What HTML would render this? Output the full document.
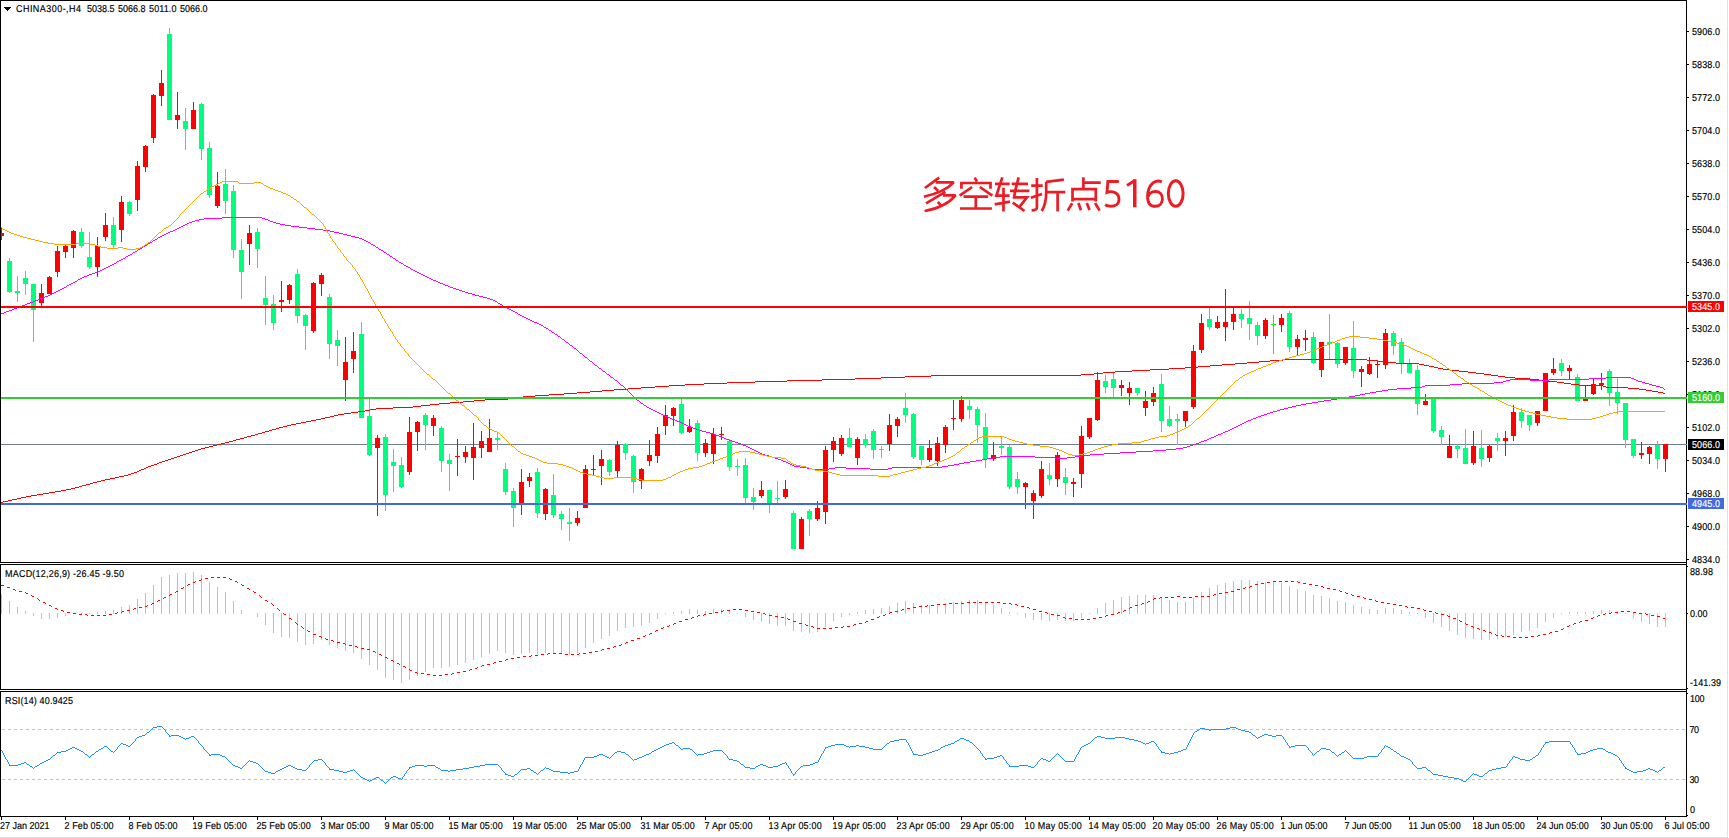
<!DOCTYPE html><html><head><meta charset="utf-8"><title>CHINA300-,H4</title><style>html,body{margin:0;padding:0;background:#fff;overflow:hidden}svg text{font-family:"Liberation Sans",sans-serif}</style></head><body><svg width="1729" height="838" viewBox="0 0 1729 838" font-family="'Liberation Sans', sans-serif" text-rendering="geometricPrecision" style="display:block">
<rect x="0" y="0" width="1729" height="838" fill="#fff"/>
<rect x="1727" y="0" width="1" height="838" fill="#e2e2e2"/>
<rect x="0" y="837" width="1728" height="1" fill="#e0e0e0"/>
<defs><clipPath id="cm"><rect x="1" y="1" width="1685" height="561"/></clipPath><clipPath id="cd"><rect x="1" y="565" width="1685" height="124"/></clipPath><clipPath id="cr"><rect x="1" y="692" width="1685" height="124"/></clipPath></defs>
<rect x="1" y="444" width="1686" height="1" fill="#708090" shape-rendering="crispEdges"/>
<g clip-path="url(#cm)" shape-rendering="crispEdges">
<rect x="1" y="228" width="1" height="12" fill="#ff0000"/>
<rect x="-1" y="233" width="5" height="3" fill="#ff0000"/>
<rect x="9" y="258" width="1" height="35" fill="#00ff7f"/>
<rect x="7" y="261" width="5" height="31" fill="#00ff7f"/>
<rect x="17" y="276" width="1" height="26" fill="#00ff7f"/>
<rect x="15" y="291" width="5" height="2" fill="#00ff7f"/>
<rect x="25" y="271" width="1" height="24" fill="#00ff7f"/>
<rect x="23" y="278" width="5" height="6" fill="#00ff7f"/>
<rect x="33" y="284" width="1" height="58" fill="#00ff7f"/>
<rect x="31" y="284" width="5" height="26" fill="#00ff7f"/>
<rect x="41" y="284" width="1" height="22" fill="#ff0000"/>
<rect x="39" y="293" width="5" height="10" fill="#ff0000"/>
<rect x="49" y="276" width="1" height="18" fill="#ff0000"/>
<rect x="47" y="277" width="5" height="17" fill="#ff0000"/>
<rect x="57" y="246" width="1" height="31" fill="#ff0000"/>
<rect x="55" y="251" width="5" height="21" fill="#ff0000"/>
<rect x="65" y="244" width="1" height="14" fill="#ff0000"/>
<rect x="63" y="246" width="5" height="6" fill="#ff0000"/>
<rect x="73" y="230" width="1" height="28" fill="#ff0000"/>
<rect x="71" y="231" width="5" height="17" fill="#ff0000"/>
<rect x="81" y="228" width="1" height="20" fill="#00ff7f"/>
<rect x="79" y="232" width="5" height="14" fill="#00ff7f"/>
<rect x="89" y="232" width="1" height="37" fill="#00ff7f"/>
<rect x="87" y="257" width="5" height="10" fill="#00ff7f"/>
<rect x="97" y="237" width="1" height="40" fill="#ff0000"/>
<rect x="95" y="246" width="5" height="21" fill="#ff0000"/>
<rect x="105" y="213" width="1" height="28" fill="#ff0000"/>
<rect x="103" y="225" width="5" height="12" fill="#ff0000"/>
<rect x="113" y="217" width="1" height="31" fill="#00ff7f"/>
<rect x="111" y="225" width="5" height="20" fill="#00ff7f"/>
<rect x="121" y="196" width="1" height="46" fill="#ff0000"/>
<rect x="119" y="202" width="5" height="28" fill="#ff0000"/>
<rect x="129" y="201" width="1" height="15" fill="#00ff7f"/>
<rect x="127" y="202" width="5" height="12" fill="#00ff7f"/>
<rect x="137" y="161" width="1" height="50" fill="#ff0000"/>
<rect x="135" y="166" width="5" height="34" fill="#ff0000"/>
<rect x="145" y="145" width="1" height="27" fill="#ff0000"/>
<rect x="143" y="146" width="5" height="21" fill="#ff0000"/>
<rect x="153" y="94" width="1" height="49" fill="#ff0000"/>
<rect x="151" y="95" width="5" height="43" fill="#ff0000"/>
<rect x="161" y="70" width="1" height="36" fill="#ff0000"/>
<rect x="159" y="83" width="5" height="13" fill="#ff0000"/>
<rect x="169" y="28" width="1" height="92" fill="#00ff7f"/>
<rect x="167" y="34" width="5" height="86" fill="#00ff7f"/>
<rect x="177" y="92" width="1" height="37" fill="#ff0000"/>
<rect x="175" y="115" width="5" height="5" fill="#ff0000"/>
<rect x="185" y="108" width="1" height="42" fill="#00ff7f"/>
<rect x="183" y="121" width="5" height="8" fill="#00ff7f"/>
<rect x="193" y="102" width="1" height="27" fill="#ff0000"/>
<rect x="191" y="110" width="5" height="19" fill="#ff0000"/>
<rect x="201" y="103" width="1" height="57" fill="#00ff7f"/>
<rect x="199" y="104" width="5" height="45" fill="#00ff7f"/>
<rect x="209" y="142" width="1" height="56" fill="#00ff7f"/>
<rect x="207" y="148" width="5" height="47" fill="#00ff7f"/>
<rect x="217" y="172" width="1" height="36" fill="#ff0000"/>
<rect x="215" y="186" width="5" height="20" fill="#ff0000"/>
<rect x="225" y="169" width="1" height="45" fill="#00ff7f"/>
<rect x="223" y="184" width="5" height="17" fill="#00ff7f"/>
<rect x="233" y="185" width="1" height="73" fill="#00ff7f"/>
<rect x="231" y="191" width="5" height="59" fill="#00ff7f"/>
<rect x="241" y="239" width="1" height="60" fill="#00ff7f"/>
<rect x="239" y="250" width="5" height="22" fill="#00ff7f"/>
<rect x="249" y="225" width="1" height="40" fill="#ff0000"/>
<rect x="247" y="233" width="5" height="11" fill="#ff0000"/>
<rect x="257" y="228" width="1" height="40" fill="#00ff7f"/>
<rect x="255" y="232" width="5" height="17" fill="#00ff7f"/>
<rect x="265" y="276" width="1" height="49" fill="#00ff7f"/>
<rect x="263" y="298" width="5" height="7" fill="#00ff7f"/>
<rect x="273" y="295" width="1" height="35" fill="#00ff7f"/>
<rect x="271" y="304" width="5" height="19" fill="#00ff7f"/>
<rect x="281" y="281" width="1" height="31" fill="#ff0000"/>
<rect x="279" y="300" width="5" height="2" fill="#ff0000"/>
<rect x="289" y="284" width="1" height="20" fill="#ff0000"/>
<rect x="287" y="285" width="5" height="15" fill="#ff0000"/>
<rect x="297" y="269" width="1" height="54" fill="#00ff7f"/>
<rect x="295" y="274" width="5" height="42" fill="#00ff7f"/>
<rect x="305" y="314" width="1" height="36" fill="#00ff7f"/>
<rect x="303" y="315" width="5" height="11" fill="#00ff7f"/>
<rect x="313" y="282" width="1" height="51" fill="#ff0000"/>
<rect x="311" y="283" width="5" height="48" fill="#ff0000"/>
<rect x="321" y="273" width="1" height="23" fill="#ff0000"/>
<rect x="319" y="275" width="5" height="9" fill="#ff0000"/>
<rect x="329" y="294" width="1" height="65" fill="#00ff7f"/>
<rect x="327" y="297" width="5" height="47" fill="#00ff7f"/>
<rect x="337" y="330" width="1" height="36" fill="#00ff7f"/>
<rect x="335" y="340" width="5" height="6" fill="#00ff7f"/>
<rect x="345" y="337" width="1" height="64" fill="#ff0000"/>
<rect x="343" y="362" width="5" height="18" fill="#ff0000"/>
<rect x="353" y="332" width="1" height="41" fill="#ff0000"/>
<rect x="351" y="351" width="5" height="8" fill="#ff0000"/>
<rect x="361" y="322" width="1" height="96" fill="#00ff7f"/>
<rect x="359" y="334" width="5" height="84" fill="#00ff7f"/>
<rect x="369" y="399" width="1" height="57" fill="#00ff7f"/>
<rect x="367" y="416" width="5" height="39" fill="#00ff7f"/>
<rect x="377" y="435" width="1" height="81" fill="#ff0000"/>
<rect x="375" y="438" width="5" height="10" fill="#ff0000"/>
<rect x="385" y="434" width="1" height="77" fill="#00ff7f"/>
<rect x="383" y="437" width="5" height="58" fill="#00ff7f"/>
<rect x="393" y="449" width="1" height="43" fill="#00ff7f"/>
<rect x="391" y="462" width="5" height="4" fill="#00ff7f"/>
<rect x="401" y="457" width="1" height="31" fill="#00ff7f"/>
<rect x="399" y="465" width="5" height="22" fill="#00ff7f"/>
<rect x="409" y="417" width="1" height="58" fill="#ff0000"/>
<rect x="407" y="432" width="5" height="40" fill="#ff0000"/>
<rect x="417" y="421" width="1" height="30" fill="#ff0000"/>
<rect x="415" y="422" width="5" height="10" fill="#ff0000"/>
<rect x="425" y="413" width="1" height="37" fill="#00ff7f"/>
<rect x="423" y="415" width="5" height="10" fill="#00ff7f"/>
<rect x="433" y="415" width="1" height="21" fill="#ff0000"/>
<rect x="431" y="418" width="5" height="8" fill="#ff0000"/>
<rect x="441" y="426" width="1" height="46" fill="#00ff7f"/>
<rect x="439" y="428" width="5" height="33" fill="#00ff7f"/>
<rect x="449" y="454" width="1" height="37" fill="#00ff7f"/>
<rect x="447" y="460" width="5" height="4" fill="#00ff7f"/>
<rect x="457" y="439" width="1" height="37" fill="#ff0000"/>
<rect x="455" y="456" width="5" height="1" fill="#ff0000"/>
<rect x="465" y="446" width="1" height="17" fill="#ff0000"/>
<rect x="463" y="452" width="5" height="5" fill="#ff0000"/>
<rect x="473" y="423" width="1" height="57" fill="#ff0000"/>
<rect x="471" y="447" width="5" height="11" fill="#ff0000"/>
<rect x="481" y="431" width="1" height="27" fill="#ff0000"/>
<rect x="479" y="441" width="5" height="7" fill="#ff0000"/>
<rect x="489" y="419" width="1" height="33" fill="#ff0000"/>
<rect x="487" y="438" width="5" height="14" fill="#ff0000"/>
<rect x="497" y="432" width="1" height="18" fill="#00ff7f"/>
<rect x="495" y="438" width="5" height="2" fill="#00ff7f"/>
<rect x="505" y="463" width="1" height="32" fill="#00ff7f"/>
<rect x="503" y="469" width="5" height="23" fill="#00ff7f"/>
<rect x="513" y="488" width="1" height="39" fill="#00ff7f"/>
<rect x="511" y="491" width="5" height="17" fill="#00ff7f"/>
<rect x="521" y="469" width="1" height="46" fill="#ff0000"/>
<rect x="519" y="482" width="5" height="21" fill="#ff0000"/>
<rect x="529" y="473" width="1" height="14" fill="#ff0000"/>
<rect x="527" y="477" width="5" height="4" fill="#ff0000"/>
<rect x="537" y="468" width="1" height="50" fill="#00ff7f"/>
<rect x="535" y="472" width="5" height="41" fill="#00ff7f"/>
<rect x="545" y="488" width="1" height="32" fill="#ff0000"/>
<rect x="543" y="489" width="5" height="25" fill="#ff0000"/>
<rect x="553" y="474" width="1" height="44" fill="#00ff7f"/>
<rect x="551" y="495" width="5" height="20" fill="#00ff7f"/>
<rect x="561" y="511" width="1" height="19" fill="#00ff7f"/>
<rect x="559" y="514" width="5" height="5" fill="#00ff7f"/>
<rect x="569" y="508" width="1" height="33" fill="#00ff7f"/>
<rect x="567" y="522" width="5" height="2" fill="#00ff7f"/>
<rect x="577" y="511" width="1" height="15" fill="#ff0000"/>
<rect x="575" y="518" width="5" height="5" fill="#ff0000"/>
<rect x="585" y="465" width="1" height="43" fill="#ff0000"/>
<rect x="583" y="469" width="5" height="39" fill="#ff0000"/>
<rect x="593" y="455" width="1" height="20" fill="#ff0000"/>
<rect x="591" y="469" width="5" height="1" fill="#ff0000"/>
<rect x="601" y="450" width="1" height="35" fill="#ff0000"/>
<rect x="599" y="459" width="5" height="7" fill="#ff0000"/>
<rect x="609" y="459" width="1" height="17" fill="#00ff7f"/>
<rect x="607" y="460" width="5" height="12" fill="#00ff7f"/>
<rect x="617" y="441" width="1" height="36" fill="#ff0000"/>
<rect x="615" y="445" width="5" height="26" fill="#ff0000"/>
<rect x="625" y="443" width="1" height="17" fill="#00ff7f"/>
<rect x="623" y="444" width="5" height="9" fill="#00ff7f"/>
<rect x="633" y="455" width="1" height="38" fill="#00ff7f"/>
<rect x="631" y="456" width="5" height="26" fill="#00ff7f"/>
<rect x="641" y="468" width="1" height="21" fill="#ff0000"/>
<rect x="639" y="469" width="5" height="12" fill="#ff0000"/>
<rect x="649" y="440" width="1" height="26" fill="#ff0000"/>
<rect x="647" y="455" width="5" height="6" fill="#ff0000"/>
<rect x="657" y="427" width="1" height="36" fill="#ff0000"/>
<rect x="655" y="434" width="5" height="22" fill="#ff0000"/>
<rect x="665" y="405" width="1" height="30" fill="#ff0000"/>
<rect x="663" y="415" width="5" height="11" fill="#ff0000"/>
<rect x="673" y="407" width="1" height="19" fill="#ff0000"/>
<rect x="671" y="408" width="5" height="8" fill="#ff0000"/>
<rect x="681" y="399" width="1" height="35" fill="#00ff7f"/>
<rect x="679" y="404" width="5" height="29" fill="#00ff7f"/>
<rect x="689" y="419" width="1" height="14" fill="#ff0000"/>
<rect x="687" y="427" width="5" height="5" fill="#ff0000"/>
<rect x="697" y="420" width="1" height="41" fill="#00ff7f"/>
<rect x="695" y="423" width="5" height="30" fill="#00ff7f"/>
<rect x="705" y="439" width="1" height="18" fill="#ff0000"/>
<rect x="703" y="443" width="5" height="10" fill="#ff0000"/>
<rect x="713" y="428" width="1" height="36" fill="#ff0000"/>
<rect x="711" y="434" width="5" height="20" fill="#ff0000"/>
<rect x="721" y="427" width="1" height="13" fill="#ff0000"/>
<rect x="719" y="434" width="5" height="1" fill="#ff0000"/>
<rect x="729" y="439" width="1" height="32" fill="#00ff7f"/>
<rect x="727" y="441" width="5" height="26" fill="#00ff7f"/>
<rect x="737" y="459" width="1" height="17" fill="#00ff7f"/>
<rect x="735" y="466" width="5" height="1" fill="#00ff7f"/>
<rect x="745" y="458" width="1" height="46" fill="#00ff7f"/>
<rect x="743" y="465" width="5" height="33" fill="#00ff7f"/>
<rect x="753" y="488" width="1" height="22" fill="#00ff7f"/>
<rect x="751" y="497" width="5" height="5" fill="#00ff7f"/>
<rect x="761" y="481" width="1" height="17" fill="#ff0000"/>
<rect x="759" y="490" width="5" height="6" fill="#ff0000"/>
<rect x="769" y="490" width="1" height="23" fill="#00ff7f"/>
<rect x="767" y="490" width="5" height="13" fill="#00ff7f"/>
<rect x="777" y="481" width="1" height="22" fill="#00ff7f"/>
<rect x="775" y="498" width="5" height="1" fill="#00ff7f"/>
<rect x="785" y="480" width="1" height="19" fill="#ff0000"/>
<rect x="783" y="489" width="5" height="8" fill="#ff0000"/>
<rect x="793" y="511" width="1" height="38" fill="#00ff7f"/>
<rect x="791" y="513" width="5" height="36" fill="#00ff7f"/>
<rect x="801" y="517" width="1" height="32" fill="#ff0000"/>
<rect x="799" y="519" width="5" height="30" fill="#ff0000"/>
<rect x="809" y="509" width="1" height="27" fill="#00ff7f"/>
<rect x="807" y="511" width="5" height="8" fill="#00ff7f"/>
<rect x="817" y="501" width="1" height="20" fill="#ff0000"/>
<rect x="815" y="508" width="5" height="11" fill="#ff0000"/>
<rect x="825" y="446" width="1" height="78" fill="#ff0000"/>
<rect x="823" y="450" width="5" height="62" fill="#ff0000"/>
<rect x="833" y="437" width="1" height="25" fill="#ff0000"/>
<rect x="831" y="441" width="5" height="9" fill="#ff0000"/>
<rect x="841" y="435" width="1" height="21" fill="#ff0000"/>
<rect x="839" y="438" width="5" height="16" fill="#ff0000"/>
<rect x="849" y="428" width="1" height="19" fill="#00ff7f"/>
<rect x="847" y="438" width="5" height="9" fill="#00ff7f"/>
<rect x="857" y="437" width="1" height="28" fill="#ff0000"/>
<rect x="855" y="439" width="5" height="19" fill="#ff0000"/>
<rect x="865" y="434" width="1" height="14" fill="#00ff7f"/>
<rect x="863" y="439" width="5" height="6" fill="#00ff7f"/>
<rect x="873" y="429" width="1" height="30" fill="#00ff7f"/>
<rect x="871" y="431" width="5" height="19" fill="#00ff7f"/>
<rect x="881" y="446" width="1" height="12" fill="#00ff7f"/>
<rect x="879" y="449" width="5" height="1" fill="#00ff7f"/>
<rect x="889" y="414" width="1" height="37" fill="#ff0000"/>
<rect x="887" y="425" width="5" height="19" fill="#ff0000"/>
<rect x="897" y="417" width="1" height="20" fill="#ff0000"/>
<rect x="895" y="419" width="5" height="7" fill="#ff0000"/>
<rect x="905" y="393" width="1" height="30" fill="#00ff7f"/>
<rect x="903" y="408" width="5" height="7" fill="#00ff7f"/>
<rect x="913" y="413" width="1" height="46" fill="#00ff7f"/>
<rect x="911" y="414" width="5" height="43" fill="#00ff7f"/>
<rect x="921" y="446" width="1" height="19" fill="#00ff7f"/>
<rect x="919" y="446" width="5" height="14" fill="#00ff7f"/>
<rect x="929" y="440" width="1" height="22" fill="#ff0000"/>
<rect x="927" y="448" width="5" height="12" fill="#ff0000"/>
<rect x="937" y="437" width="1" height="29" fill="#ff0000"/>
<rect x="935" y="443" width="5" height="18" fill="#ff0000"/>
<rect x="945" y="425" width="1" height="28" fill="#ff0000"/>
<rect x="943" y="427" width="5" height="18" fill="#ff0000"/>
<rect x="953" y="400" width="1" height="30" fill="#ff0000"/>
<rect x="951" y="418" width="5" height="1" fill="#ff0000"/>
<rect x="961" y="396" width="1" height="26" fill="#ff0000"/>
<rect x="959" y="400" width="5" height="19" fill="#ff0000"/>
<rect x="969" y="400" width="1" height="19" fill="#00ff7f"/>
<rect x="967" y="406" width="5" height="4" fill="#00ff7f"/>
<rect x="977" y="407" width="1" height="36" fill="#00ff7f"/>
<rect x="975" y="409" width="5" height="16" fill="#00ff7f"/>
<rect x="985" y="413" width="1" height="55" fill="#00ff7f"/>
<rect x="983" y="427" width="5" height="32" fill="#00ff7f"/>
<rect x="993" y="442" width="1" height="19" fill="#ff0000"/>
<rect x="991" y="455" width="5" height="4" fill="#ff0000"/>
<rect x="1001" y="437" width="1" height="18" fill="#00ff7f"/>
<rect x="999" y="446" width="5" height="2" fill="#00ff7f"/>
<rect x="1009" y="445" width="1" height="44" fill="#00ff7f"/>
<rect x="1007" y="447" width="5" height="40" fill="#00ff7f"/>
<rect x="1017" y="472" width="1" height="22" fill="#00ff7f"/>
<rect x="1015" y="479" width="5" height="8" fill="#00ff7f"/>
<rect x="1025" y="482" width="1" height="27" fill="#ff0000"/>
<rect x="1023" y="483" width="5" height="4" fill="#ff0000"/>
<rect x="1033" y="490" width="1" height="29" fill="#ff0000"/>
<rect x="1031" y="493" width="5" height="8" fill="#ff0000"/>
<rect x="1041" y="461" width="1" height="37" fill="#ff0000"/>
<rect x="1039" y="469" width="5" height="27" fill="#ff0000"/>
<rect x="1049" y="463" width="1" height="22" fill="#00ff7f"/>
<rect x="1047" y="475" width="5" height="4" fill="#00ff7f"/>
<rect x="1057" y="452" width="1" height="35" fill="#ff0000"/>
<rect x="1055" y="455" width="5" height="24" fill="#ff0000"/>
<rect x="1065" y="468" width="1" height="27" fill="#00ff7f"/>
<rect x="1063" y="477" width="5" height="6" fill="#00ff7f"/>
<rect x="1073" y="478" width="1" height="19" fill="#ff0000"/>
<rect x="1071" y="482" width="5" height="2" fill="#ff0000"/>
<rect x="1081" y="426" width="1" height="62" fill="#ff0000"/>
<rect x="1079" y="436" width="5" height="38" fill="#ff0000"/>
<rect x="1089" y="418" width="1" height="21" fill="#ff0000"/>
<rect x="1087" y="418" width="5" height="19" fill="#ff0000"/>
<rect x="1097" y="372" width="1" height="49" fill="#ff0000"/>
<rect x="1095" y="380" width="5" height="40" fill="#ff0000"/>
<rect x="1105" y="375" width="1" height="18" fill="#00ff7f"/>
<rect x="1103" y="381" width="5" height="6" fill="#00ff7f"/>
<rect x="1113" y="373" width="1" height="24" fill="#00ff7f"/>
<rect x="1111" y="379" width="5" height="9" fill="#00ff7f"/>
<rect x="1121" y="380" width="1" height="16" fill="#ff0000"/>
<rect x="1119" y="385" width="5" height="3" fill="#ff0000"/>
<rect x="1129" y="382" width="1" height="23" fill="#ff0000"/>
<rect x="1127" y="388" width="5" height="5" fill="#ff0000"/>
<rect x="1137" y="388" width="1" height="8" fill="#00ff7f"/>
<rect x="1135" y="388" width="5" height="5" fill="#00ff7f"/>
<rect x="1145" y="391" width="1" height="25" fill="#ff0000"/>
<rect x="1143" y="401" width="5" height="7" fill="#ff0000"/>
<rect x="1153" y="387" width="1" height="19" fill="#ff0000"/>
<rect x="1151" y="393" width="5" height="9" fill="#ff0000"/>
<rect x="1161" y="374" width="1" height="58" fill="#00ff7f"/>
<rect x="1159" y="384" width="5" height="37" fill="#00ff7f"/>
<rect x="1169" y="406" width="1" height="21" fill="#00ff7f"/>
<rect x="1167" y="419" width="5" height="7" fill="#00ff7f"/>
<rect x="1177" y="414" width="1" height="31" fill="#00ff7f"/>
<rect x="1175" y="419" width="5" height="2" fill="#00ff7f"/>
<rect x="1185" y="411" width="1" height="16" fill="#ff0000"/>
<rect x="1183" y="411" width="5" height="10" fill="#ff0000"/>
<rect x="1193" y="345" width="1" height="64" fill="#ff0000"/>
<rect x="1191" y="351" width="5" height="56" fill="#ff0000"/>
<rect x="1201" y="314" width="1" height="39" fill="#ff0000"/>
<rect x="1199" y="323" width="5" height="27" fill="#ff0000"/>
<rect x="1209" y="308" width="1" height="22" fill="#00ff7f"/>
<rect x="1207" y="319" width="5" height="8" fill="#00ff7f"/>
<rect x="1217" y="316" width="1" height="13" fill="#ff0000"/>
<rect x="1215" y="322" width="5" height="6" fill="#ff0000"/>
<rect x="1225" y="289" width="1" height="52" fill="#ff0000"/>
<rect x="1223" y="322" width="5" height="5" fill="#ff0000"/>
<rect x="1233" y="308" width="1" height="22" fill="#ff0000"/>
<rect x="1231" y="314" width="5" height="8" fill="#ff0000"/>
<rect x="1241" y="309" width="1" height="19" fill="#00ff7f"/>
<rect x="1239" y="314" width="5" height="5" fill="#00ff7f"/>
<rect x="1249" y="301" width="1" height="39" fill="#00ff7f"/>
<rect x="1247" y="318" width="5" height="6" fill="#00ff7f"/>
<rect x="1257" y="322" width="1" height="23" fill="#00ff7f"/>
<rect x="1255" y="325" width="5" height="11" fill="#00ff7f"/>
<rect x="1265" y="318" width="1" height="21" fill="#ff0000"/>
<rect x="1263" y="320" width="5" height="16" fill="#ff0000"/>
<rect x="1273" y="315" width="1" height="39" fill="#00ff00"/>
<rect x="1271" y="324" width="5" height="1" fill="#00ff00"/>
<rect x="1281" y="314" width="1" height="18" fill="#ff0000"/>
<rect x="1279" y="318" width="5" height="7" fill="#ff0000"/>
<rect x="1289" y="311" width="1" height="41" fill="#00ff7f"/>
<rect x="1287" y="313" width="5" height="34" fill="#00ff7f"/>
<rect x="1297" y="335" width="1" height="20" fill="#ff0000"/>
<rect x="1295" y="339" width="5" height="8" fill="#ff0000"/>
<rect x="1305" y="330" width="1" height="21" fill="#ff0000"/>
<rect x="1303" y="338" width="5" height="2" fill="#ff0000"/>
<rect x="1313" y="332" width="1" height="32" fill="#00ff7f"/>
<rect x="1311" y="337" width="5" height="26" fill="#00ff7f"/>
<rect x="1321" y="342" width="1" height="35" fill="#ff0000"/>
<rect x="1319" y="342" width="5" height="28" fill="#ff0000"/>
<rect x="1329" y="314" width="1" height="45" fill="#00ff7f"/>
<rect x="1327" y="342" width="5" height="2" fill="#00ff7f"/>
<rect x="1337" y="342" width="1" height="26" fill="#00ff7f"/>
<rect x="1335" y="343" width="5" height="21" fill="#00ff7f"/>
<rect x="1345" y="347" width="1" height="18" fill="#ff0000"/>
<rect x="1343" y="347" width="5" height="16" fill="#ff0000"/>
<rect x="1353" y="321" width="1" height="57" fill="#00ff7f"/>
<rect x="1351" y="348" width="5" height="23" fill="#00ff7f"/>
<rect x="1361" y="366" width="1" height="21" fill="#ff0000"/>
<rect x="1359" y="369" width="5" height="3" fill="#ff0000"/>
<rect x="1369" y="357" width="1" height="18" fill="#ff0000"/>
<rect x="1367" y="364" width="5" height="10" fill="#ff0000"/>
<rect x="1377" y="360" width="1" height="18" fill="#ff0000"/>
<rect x="1375" y="364" width="5" height="1" fill="#ff0000"/>
<rect x="1385" y="329" width="1" height="40" fill="#ff0000"/>
<rect x="1383" y="333" width="5" height="32" fill="#ff0000"/>
<rect x="1393" y="331" width="1" height="24" fill="#00ff7f"/>
<rect x="1391" y="333" width="5" height="13" fill="#00ff7f"/>
<rect x="1401" y="338" width="1" height="36" fill="#00ff7f"/>
<rect x="1399" y="342" width="5" height="22" fill="#00ff7f"/>
<rect x="1409" y="359" width="1" height="14" fill="#00ff7f"/>
<rect x="1407" y="363" width="5" height="10" fill="#00ff7f"/>
<rect x="1417" y="365" width="1" height="50" fill="#00ff7f"/>
<rect x="1415" y="370" width="5" height="34" fill="#00ff7f"/>
<rect x="1425" y="394" width="1" height="11" fill="#ff0000"/>
<rect x="1423" y="401" width="5" height="4" fill="#ff0000"/>
<rect x="1433" y="398" width="1" height="35" fill="#00ff7f"/>
<rect x="1431" y="398" width="5" height="33" fill="#00ff7f"/>
<rect x="1441" y="426" width="1" height="19" fill="#00ff7f"/>
<rect x="1439" y="430" width="5" height="7" fill="#00ff7f"/>
<rect x="1449" y="435" width="1" height="23" fill="#ff0000"/>
<rect x="1447" y="446" width="5" height="12" fill="#ff0000"/>
<rect x="1457" y="444" width="1" height="14" fill="#00ff7f"/>
<rect x="1455" y="446" width="5" height="3" fill="#00ff7f"/>
<rect x="1465" y="429" width="1" height="35" fill="#00ff7f"/>
<rect x="1463" y="448" width="5" height="16" fill="#00ff7f"/>
<rect x="1473" y="431" width="1" height="34" fill="#ff0000"/>
<rect x="1471" y="446" width="5" height="17" fill="#ff0000"/>
<rect x="1481" y="430" width="1" height="37" fill="#00ff7f"/>
<rect x="1479" y="448" width="5" height="11" fill="#00ff7f"/>
<rect x="1489" y="445" width="1" height="17" fill="#ff0000"/>
<rect x="1487" y="446" width="5" height="12" fill="#ff0000"/>
<rect x="1497" y="433" width="1" height="18" fill="#00ff7f"/>
<rect x="1495" y="438" width="5" height="3" fill="#00ff7f"/>
<rect x="1505" y="431" width="1" height="25" fill="#ff0000"/>
<rect x="1503" y="438" width="5" height="3" fill="#ff0000"/>
<rect x="1513" y="405" width="1" height="36" fill="#ff0000"/>
<rect x="1511" y="412" width="5" height="24" fill="#ff0000"/>
<rect x="1521" y="408" width="1" height="20" fill="#00ff7f"/>
<rect x="1519" y="412" width="5" height="9" fill="#00ff7f"/>
<rect x="1529" y="415" width="1" height="16" fill="#00ff7f"/>
<rect x="1527" y="415" width="5" height="10" fill="#00ff7f"/>
<rect x="1537" y="411" width="1" height="15" fill="#ff0000"/>
<rect x="1535" y="411" width="5" height="12" fill="#ff0000"/>
<rect x="1545" y="373" width="1" height="38" fill="#ff0000"/>
<rect x="1543" y="373" width="5" height="38" fill="#ff0000"/>
<rect x="1553" y="358" width="1" height="17" fill="#ff0000"/>
<rect x="1551" y="369" width="5" height="4" fill="#ff0000"/>
<rect x="1561" y="359" width="1" height="17" fill="#00ff7f"/>
<rect x="1559" y="363" width="5" height="8" fill="#00ff7f"/>
<rect x="1569" y="365" width="1" height="14" fill="#ff0000"/>
<rect x="1567" y="368" width="5" height="3" fill="#ff0000"/>
<rect x="1577" y="374" width="1" height="27" fill="#00ff7f"/>
<rect x="1575" y="377" width="5" height="24" fill="#00ff7f"/>
<rect x="1585" y="385" width="1" height="16" fill="#ff0000"/>
<rect x="1583" y="399" width="5" height="2" fill="#ff0000"/>
<rect x="1593" y="379" width="1" height="16" fill="#ff0000"/>
<rect x="1591" y="384" width="5" height="10" fill="#ff0000"/>
<rect x="1601" y="373" width="1" height="17" fill="#ff0000"/>
<rect x="1599" y="383" width="5" height="2" fill="#ff0000"/>
<rect x="1609" y="369" width="1" height="37" fill="#00ff7f"/>
<rect x="1607" y="371" width="5" height="22" fill="#00ff7f"/>
<rect x="1617" y="378" width="1" height="36" fill="#00ff7f"/>
<rect x="1615" y="392" width="5" height="11" fill="#00ff7f"/>
<rect x="1625" y="403" width="1" height="45" fill="#00ff7f"/>
<rect x="1623" y="403" width="5" height="37" fill="#00ff7f"/>
<rect x="1633" y="439" width="1" height="19" fill="#00ff7f"/>
<rect x="1631" y="439" width="5" height="17" fill="#00ff7f"/>
<rect x="1641" y="442" width="1" height="17" fill="#ff0000"/>
<rect x="1639" y="453" width="5" height="2" fill="#ff0000"/>
<rect x="1649" y="446" width="1" height="18" fill="#ff0000"/>
<rect x="1647" y="447" width="5" height="7" fill="#ff0000"/>
<rect x="1657" y="441" width="1" height="28" fill="#00ff7f"/>
<rect x="1655" y="445" width="5" height="14" fill="#00ff7f"/>
<rect x="1665" y="444" width="1" height="28" fill="#ff0000"/>
<rect x="1663" y="444" width="5" height="15" fill="#ff0000"/>
</g>
<path clip-path="url(#cm)" d="M0 502h3v1h-3zM3 501h5v1h-5zM8 500h4v1h-4zM12 499h5v1h-5zM17 498h4v1h-4zM21 497h5v1h-5zM26 496h5v1h-5zM31 495h6v1h-6zM37 494h6v1h-6zM43 493h6v1h-6zM49 492h6v1h-6zM55 491h6v1h-6zM61 490h5v1h-5zM66 489h5v1h-5zM71 488h4v1h-4zM75 487h4v1h-4zM79 486h3v1h-3zM82 485h4v1h-4zM86 484h4v1h-4zM90 483h3v1h-3zM93 482h4v1h-4zM97 481h4v1h-4zM101 480h4v1h-4zM105 479h5v1h-5zM110 478h5v1h-5zM115 477h4v1h-4zM119 476h5v1h-5zM124 475h4v1h-4zM128 474h3v1h-3zM131 473h3v1h-3zM134 472h3v1h-3zM137 471h2v1h-2zM139 470h2v1h-2zM141 469h3v1h-3zM144 468h2v1h-2zM146 467h2v1h-2zM148 466h3v1h-3zM151 465h3v1h-3zM154 464h3v1h-3zM157 463h2v1h-2zM159 462h3v1h-3zM162 461h3v1h-3zM165 460h3v1h-3zM168 459h3v1h-3zM171 458h3v1h-3zM174 457h3v1h-3zM177 456h3v1h-3zM180 455h3v1h-3zM183 454h3v1h-3zM186 453h3v1h-3zM189 452h3v1h-3zM192 451h3v1h-3zM195 450h3v1h-3zM198 449h3v1h-3zM201 448h4v1h-4zM205 447h4v1h-4zM209 446h4v1h-4zM213 445h4v1h-4zM217 444h4v1h-4zM221 443h4v1h-4zM225 442h4v1h-4zM229 441h4v1h-4zM233 440h3v1h-3zM236 439h4v1h-4zM240 438h4v1h-4zM244 437h3v1h-3zM247 436h4v1h-4zM251 435h4v1h-4zM255 434h3v1h-3zM258 433h4v1h-4zM262 432h3v1h-3zM265 431h4v1h-4zM269 430h3v1h-3zM272 429h4v1h-4zM276 428h3v1h-3zM279 427h4v1h-4zM283 426h4v1h-4zM287 425h4v1h-4zM291 424h5v1h-5zM296 423h5v1h-5zM301 422h5v1h-5zM306 421h5v1h-5zM311 420h5v1h-5zM316 419h5v1h-5zM321 418h4v1h-4zM325 417h5v1h-5zM330 416h4v1h-4zM334 415h4v1h-4zM338 414h6v1h-6zM344 413h7v1h-7zM351 412h7v1h-7zM358 411h7v1h-7zM365 410h5v1h-5zM370 409h6v1h-6zM376 408h17v1h-17zM393 407h20v1h-20zM413 406h8v1h-8zM421 405h9v1h-9zM430 404h9v1h-9zM439 403h11v1h-11zM450 402h13v1h-13zM463 401h11v1h-11zM474 400h11v1h-11zM485 399h23v1h-23zM508 398h7v1h-7zM515 397h8v1h-8zM523 396h12v1h-12zM535 395h14v1h-14zM549 394h15v1h-15zM564 393h13v1h-13zM577 392h13v1h-13zM590 391h12v1h-12zM602 390h12v1h-12zM614 389h14v1h-14zM628 388h13v1h-13zM641 387h14v1h-14zM655 386h14v1h-14zM669 385h16v1h-16zM685 384h19v1h-19zM704 383h23v1h-23zM727 382h28v1h-28zM755 381h32v1h-32zM787 380h35v1h-35zM822 379h33v1h-33zM855 378h26v1h-26zM881 377h24v1h-24zM905 376h26v1h-26zM931 375h150v1h-150zM1081 374h13v1h-13zM1094 373h9v1h-9zM1103 372h12v1h-12zM1115 371h17v1h-17zM1132 370h18v1h-18zM1150 369h19v1h-19zM1169 368h16v1h-16zM1185 367h13v1h-13zM1198 366h12v1h-12zM1210 365h12v1h-12zM1222 364h13v1h-13zM1235 363h12v1h-12zM1247 362h12v1h-12zM1259 361h11v1h-11zM1270 360h13v1h-13zM1283 359h84v1h-84zM1367 360h10v1h-10zM1377 361h8v1h-8zM1385 362h11v1h-11zM1396 363h23v1h-23zM1419 364h5v1h-5zM1424 365h5v1h-5zM1429 366h5v1h-5zM1434 367h4v1h-4zM1438 368h5v1h-5zM1443 369h7v1h-7zM1450 370h9v1h-9zM1459 371h9v1h-9zM1468 372h8v1h-8zM1476 373h8v1h-8zM1484 374h7v1h-7zM1491 375h7v1h-7zM1498 376h7v1h-7zM1505 377h10v1h-10zM1515 378h15v1h-15zM1530 379h9v1h-9zM1539 380h9v1h-9zM1548 381h9v1h-9zM1557 382h7v1h-7zM1564 383h7v1h-7zM1571 384h8v1h-8zM1579 385h24v1h-24zM1603 386h3v1h-3zM1606 387h22v1h-22zM1628 388h11v1h-11zM1639 389h7v1h-7zM1646 390h6v1h-6zM1652 391h6v1h-6zM1658 392h5v1h-5zM1663 393h2v1h-2z" fill="#ff0000" shape-rendering="crispEdges"/>
<path clip-path="url(#cm)" d="M0 314h1v1h-1zM1 313h3v1h-3zM4 312h2v1h-2zM6 311h3v1h-3zM9 310h3v1h-3zM12 309h2v1h-2zM14 308h3v1h-3zM17 307h2v1h-2zM19 306h3v1h-3zM22 305h3v1h-3zM25 304h2v1h-2zM27 303h3v1h-3zM30 302h3v1h-3zM33 301h2v1h-2zM35 300h3v1h-3zM38 299h2v1h-2zM40 298h3v1h-3zM43 297h2v1h-2zM45 296h3v1h-3zM48 295h2v1h-2zM50 294h2v1h-2zM52 293h2v1h-2zM54 292h2v1h-2zM56 291h2v1h-2zM58 290h2v1h-2zM60 289h2v1h-2zM62 288h2v1h-2zM64 287h2v1h-2zM66 286h1v1h-1zM67 285h2v1h-2zM69 284h2v1h-2zM71 283h2v1h-2zM73 282h2v1h-2zM75 281h2v1h-2zM77 280h1v1h-1zM78 279h2v1h-2zM80 278h2v1h-2zM82 277h2v1h-2zM84 276h3v1h-3zM87 275h2v1h-2zM89 274h3v1h-3zM92 273h3v1h-3zM95 272h2v1h-2zM97 271h3v1h-3zM100 270h2v1h-2zM102 269h2v1h-2zM104 268h2v1h-2zM106 267h2v1h-2zM108 266h2v1h-2zM110 265h2v1h-2zM112 264h2v1h-2zM114 263h2v1h-2zM116 262h1v1h-1zM117 261h2v1h-2zM119 260h2v1h-2zM121 259h2v1h-2zM123 258h2v1h-2zM125 257h1v1h-1zM126 256h2v1h-2zM128 255h2v1h-2zM130 254h2v1h-2zM132 253h1v1h-1zM133 252h2v1h-2zM135 251h2v1h-2zM137 250h1v1h-1zM138 249h2v1h-2zM140 248h2v1h-2zM142 247h1v1h-1zM143 246h2v1h-2zM145 245h2v1h-2zM147 244h1v1h-1zM148 243h2v1h-2zM150 242h2v1h-2zM152 241h1v1h-1zM153 240h2v1h-2zM155 239h2v1h-2zM157 238h1v1h-1zM158 237h2v1h-2zM160 236h2v1h-2zM162 235h2v1h-2zM164 234h2v1h-2zM166 233h2v1h-2zM168 232h2v1h-2zM170 231h3v1h-3zM173 230h2v1h-2zM175 229h2v1h-2zM177 228h2v1h-2zM179 227h2v1h-2zM181 226h2v1h-2zM183 225h2v1h-2zM185 224h2v1h-2zM187 223h2v1h-2zM189 222h3v1h-3zM192 221h3v1h-3zM195 220h4v1h-4zM199 219h5v1h-5zM204 218h18v1h-18zM222 217h40v1h-40zM262 218h3v1h-3zM265 219h3v1h-3zM268 220h2v1h-2zM270 221h3v1h-3zM273 222h3v1h-3zM276 223h4v1h-4zM280 224h5v1h-5zM285 225h6v1h-6zM291 226h8v1h-8zM299 227h8v1h-8zM307 228h8v1h-8zM315 229h8v1h-8zM323 230h7v1h-7zM330 231h4v1h-4zM334 232h5v1h-5zM339 233h4v1h-4zM343 234h4v1h-4zM347 235h4v1h-4zM351 236h4v1h-4zM355 237h4v1h-4zM359 238h3v1h-3zM362 239h2v1h-2zM364 240h2v1h-2zM366 241h2v1h-2zM368 242h2v1h-2zM370 243h1v1h-1zM371 244h2v1h-2zM373 245h2v1h-2zM375 246h1v1h-1zM376 247h2v1h-2zM378 248h1v1h-1zM379 249h2v1h-2zM381 250h2v1h-2zM383 251h1v1h-1zM384 252h2v1h-2zM386 253h1v1h-1zM387 254h2v1h-2zM389 255h1v1h-1zM390 256h2v1h-2zM392 257h1v1h-1zM393 258h2v1h-2zM395 259h1v1h-1zM396 260h2v1h-2zM398 261h1v1h-1zM399 262h2v1h-2zM401 263h2v1h-2zM403 264h1v1h-1zM404 265h2v1h-2zM406 266h2v1h-2zM408 267h2v1h-2zM410 268h1v1h-1zM411 269h2v1h-2zM413 270h2v1h-2zM415 271h2v1h-2zM417 272h2v1h-2zM419 273h2v1h-2zM421 274h2v1h-2zM423 275h2v1h-2zM425 276h2v1h-2zM427 277h2v1h-2zM429 278h2v1h-2zM431 279h2v1h-2zM433 280h3v1h-3zM436 281h2v1h-2zM438 282h2v1h-2zM440 283h3v1h-3zM443 284h2v1h-2zM445 285h3v1h-3zM448 286h2v1h-2zM450 287h3v1h-3zM453 288h3v1h-3zM456 289h3v1h-3zM459 290h3v1h-3zM462 291h3v1h-3zM465 292h3v1h-3zM468 293h4v1h-4zM472 294h3v1h-3zM475 295h4v1h-4zM479 296h4v1h-4zM483 297h4v1h-4zM487 298h3v1h-3zM490 299h3v1h-3zM493 300h2v1h-2zM495 301h2v1h-2zM497 302h1v1h-1zM498 303h2v1h-2zM500 304h2v1h-2zM502 305h1v1h-1zM503 306h2v1h-2zM505 307h2v1h-2zM507 308h2v1h-2zM509 309h2v1h-2zM511 310h2v1h-2zM513 311h2v1h-2zM515 312h2v1h-2zM517 313h1v1h-1zM518 314h2v1h-2zM520 315h2v1h-2zM522 316h2v1h-2zM524 317h2v1h-2zM526 318h2v1h-2zM528 319h2v1h-2zM530 320h2v1h-2zM532 321h2v1h-2zM534 322h3v1h-3zM537 323h2v1h-2zM539 324h2v1h-2zM541 325h2v1h-2zM543 326h1v1h-1zM544 327h2v1h-2zM546 328h2v1h-2zM548 329h1v1h-1zM549 330h2v1h-2zM551 331h1v1h-1zM552 332h2v1h-2zM554 333h1v1h-1zM555 334h2v1h-2zM557 335h1v1h-1zM558 336h2v1h-2zM560 337h1v1h-1zM561 338h1v1h-1zM562 339h2v1h-2zM564 340h1v1h-1zM565 341h1v1h-1zM566 342h2v1h-2zM568 343h1v1h-1zM569 344h1v1h-1zM570 345h2v1h-2zM572 346h1v1h-1zM573 347h1v1h-1zM574 348h2v1h-2zM576 349h1v1h-1zM577 350h1v1h-1zM578 351h1v1h-1zM579 352h1v1h-1zM580 353h2v1h-2zM582 354h1v1h-1zM583 355h1v1h-1zM584 356h1v1h-1zM585 357h2v1h-2zM587 358h1v1h-1zM588 359h1v1h-1zM589 360h1v1h-1zM590 361h2v1h-2zM592 362h1v1h-1zM593 363h1v1h-1zM594 364h1v1h-1zM595 365h2v1h-2zM597 366h1v1h-1zM598 367h1v1h-1zM599 368h2v1h-2zM601 369h1v1h-1zM602 370h1v1h-1zM603 371h2v1h-2zM605 372h1v1h-1zM606 373h1v1h-1zM607 374h2v1h-2zM609 375h1v1h-1zM610 376h1v1h-1zM611 377h2v1h-2zM613 378h1v1h-1zM614 379h1v1h-1zM615 380h2v1h-2zM617 381h1v1h-1zM618 382h1v1h-1zM619 383h1v1h-1zM620 384h1v1h-1zM621 385h2v1h-2zM623 386h1v1h-1zM624 387h1v1h-1zM625 388h1v1h-1zM626 389h1v1h-1zM627 390h1v1h-1zM628 391h1v1h-1zM629 392h1v1h-1zM630 393h1v1h-1zM631 394h1v1h-1zM632 395h1v1h-1zM633 396h1v1h-1zM634 397h1v1h-1zM635 398h1v1h-1zM636 399h1v1h-1zM637 400h2v1h-2zM639 401h1v1h-1zM640 402h1v1h-1zM641 403h2v1h-2zM643 404h1v1h-1zM644 405h2v1h-2zM646 406h1v1h-1zM647 407h2v1h-2zM649 408h2v1h-2zM651 409h2v1h-2zM653 410h2v1h-2zM655 411h2v1h-2zM657 412h2v1h-2zM659 413h2v1h-2zM661 414h2v1h-2zM663 415h2v1h-2zM665 416h3v1h-3zM668 417h2v1h-2zM670 418h2v1h-2zM672 419h3v1h-3zM675 420h2v1h-2zM677 421h3v1h-3zM680 422h2v1h-2zM682 423h2v1h-2zM684 424h2v1h-2zM686 425h2v1h-2zM688 426h3v1h-3zM691 427h2v1h-2zM693 428h3v1h-3zM696 429h3v1h-3zM699 430h3v1h-3zM702 431h4v1h-4zM706 432h4v1h-4zM710 433h4v1h-4zM714 434h2v1h-2zM716 435h3v1h-3zM719 436h2v1h-2zM721 437h3v1h-3zM724 438h2v1h-2zM726 439h3v1h-3zM729 440h3v1h-3zM732 441h3v1h-3zM735 442h3v1h-3zM738 443h3v1h-3zM741 444h2v1h-2zM743 445h3v1h-3zM746 446h2v1h-2zM748 447h2v1h-2zM750 448h2v1h-2zM752 449h2v1h-2zM754 450h2v1h-2zM756 451h2v1h-2zM758 452h2v1h-2zM760 453h2v1h-2zM762 454h3v1h-3zM765 455h4v1h-4zM769 456h3v1h-3zM772 457h3v1h-3zM775 458h3v1h-3zM778 459h3v1h-3zM781 460h2v1h-2zM783 461h3v1h-3zM786 462h2v1h-2zM788 463h2v1h-2zM790 464h2v1h-2zM792 465h2v1h-2zM794 466h6v1h-6zM800 467h7v1h-7zM807 468h5v1h-5zM812 469h17v1h-17zM829 468h6v1h-6zM835 467h11v1h-11zM846 468h24v1h-24zM870 469h18v1h-18zM888 468h4v1h-4zM892 467h50v1h-50zM942 466h6v1h-6zM948 465h6v1h-6zM954 464h5v1h-5zM959 463h5v1h-5zM964 462h6v1h-6zM970 461h6v1h-6zM976 460h6v1h-6zM982 459h5v1h-5zM987 458h6v1h-6zM993 457h7v1h-7zM1000 456h35v1h-35zM1035 457h20v1h-20zM1055 458h12v1h-12zM1067 457h8v1h-8zM1075 456h6v1h-6zM1081 455h9v1h-9zM1090 454h14v1h-14zM1104 453h16v1h-16zM1120 452h16v1h-16zM1136 451h17v1h-17zM1153 450h13v1h-13zM1166 449h10v1h-10zM1176 448h7v1h-7zM1183 447h4v1h-4zM1187 446h3v1h-3zM1190 445h3v1h-3zM1193 444h3v1h-3zM1196 443h3v1h-3zM1199 442h2v1h-2zM1201 441h3v1h-3zM1204 440h3v1h-3zM1207 439h2v1h-2zM1209 438h2v1h-2zM1211 437h3v1h-3zM1214 436h2v1h-2zM1216 435h2v1h-2zM1218 434h3v1h-3zM1221 433h2v1h-2zM1223 432h2v1h-2zM1225 431h3v1h-3zM1228 430h2v1h-2zM1230 429h2v1h-2zM1232 428h2v1h-2zM1234 427h2v1h-2zM1236 426h2v1h-2zM1238 425h2v1h-2zM1240 424h2v1h-2zM1242 423h2v1h-2zM1244 422h2v1h-2zM1246 421h2v1h-2zM1248 420h3v1h-3zM1251 419h2v1h-2zM1253 418h3v1h-3zM1256 417h2v1h-2zM1258 416h3v1h-3zM1261 415h3v1h-3zM1264 414h3v1h-3zM1267 413h3v1h-3zM1270 412h3v1h-3zM1273 411h4v1h-4zM1277 410h3v1h-3zM1280 409h4v1h-4zM1284 408h4v1h-4zM1288 407h4v1h-4zM1292 406h4v1h-4zM1296 405h5v1h-5zM1301 404h5v1h-5zM1306 403h6v1h-6zM1312 402h6v1h-6zM1318 401h6v1h-6zM1324 400h7v1h-7zM1331 399h6v1h-6zM1337 398h6v1h-6zM1343 397h6v1h-6zM1349 396h6v1h-6zM1355 395h5v1h-5zM1360 394h5v1h-5zM1365 393h5v1h-5zM1370 392h6v1h-6zM1376 391h6v1h-6zM1382 390h6v1h-6zM1388 389h9v1h-9zM1397 388h14v1h-14zM1411 387h11v1h-11zM1422 386h3v1h-3zM1425 385h25v1h-25zM1450 384h12v1h-12zM1462 383h32v1h-32zM1494 382h9v1h-9zM1503 381h3v1h-3zM1506 380h4v1h-4zM1510 379h20v1h-20zM1530 380h19v1h-19zM1549 379h40v1h-40zM1589 378h17v1h-17zM1606 377h25v1h-25zM1631 378h3v1h-3zM1634 379h2v1h-2zM1636 380h2v1h-2zM1638 381h4v1h-4zM1642 382h3v1h-3zM1645 383h4v1h-4zM1649 384h3v1h-3zM1652 385h4v1h-4zM1656 386h4v1h-4zM1660 387h3v1h-3zM1663 388h1v1h-1zM1664 389h1v1h-1z" fill="#ff00ff" shape-rendering="crispEdges"/>
<path clip-path="url(#cm)" d="M0 227h2v1h-2zM2 228h1v1h-1zM3 229h2v1h-2zM5 230h2v1h-2zM7 231h2v1h-2zM9 232h2v1h-2zM11 233h3v1h-3zM14 234h3v1h-3zM17 235h3v1h-3zM20 236h3v1h-3zM23 237h4v1h-4zM27 238h4v1h-4zM31 239h4v1h-4zM35 240h4v1h-4zM39 241h4v1h-4zM43 242h5v1h-5zM48 243h6v1h-6zM54 244h22v1h-22zM76 243h14v1h-14zM90 244h5v1h-5zM95 245h3v1h-3zM98 246h3v1h-3zM101 247h6v1h-6zM107 248h11v1h-11zM118 247h5v1h-5zM123 248h4v1h-4zM127 249h9v1h-9zM136 248h4v1h-4zM140 247h2v1h-2zM142 246h2v1h-2zM144 245h1v1h-1zM145 244h2v1h-2zM147 243h1v1h-1zM148 242h2v1h-2zM150 241h1v1h-1zM151 240h1v1h-1zM152 239h1v1h-1zM153 238h1v1h-1zM154 237h1v1h-1zM155 236h1v1h-1zM156 235h1v1h-1zM157 234h1v1h-1zM158 233h1v1h-1zM159 232h2v1h-2zM161 231h1v1h-1zM162 230h1v1h-1zM163 229h1v1h-1zM164 228h2v1h-2zM166 227h2v1h-2zM168 226h1v1h-1zM169 225h2v1h-2zM171 224h1v1h-1zM172 223h1v1h-1zM173 222h1v1h-1zM174 221h1v1h-1zM175 220h1v1h-1zM176 219h1v1h-1zM177 218h1v1h-1zM178 217h1v1h-1zM179 215h1v2h-1zM180 214h1v1h-1zM181 213h1v1h-1zM182 212h1v1h-1zM183 211h1v1h-1zM184 210h1v1h-1zM185 209h1v1h-1zM186 208h1v1h-1zM187 207h1v1h-1zM188 206h1v1h-1zM189 205h1v1h-1zM190 204h1v1h-1zM191 203h1v1h-1zM192 202h1v1h-1zM193 201h1v1h-1zM194 200h1v1h-1zM195 199h1v1h-1zM196 198h1v1h-1zM197 197h1v1h-1zM198 196h1v1h-1zM199 195h1v1h-1zM200 194h1v1h-1zM201 193h2v1h-2zM203 192h1v1h-1zM204 191h2v1h-2zM206 190h1v1h-1zM207 189h2v1h-2zM209 188h2v1h-2zM211 187h1v1h-1zM212 186h2v1h-2zM214 185h2v1h-2zM216 184h2v1h-2zM218 183h2v1h-2zM220 182h2v1h-2zM222 181h16v1h-16zM238 182h1v1h-1zM239 183h15v1h-15zM254 182h7v1h-7zM261 183h2v1h-2zM263 184h1v1h-1zM264 185h2v1h-2zM266 186h2v1h-2zM268 187h2v1h-2zM270 188h3v1h-3zM273 189h2v1h-2zM275 190h3v1h-3zM278 191h3v1h-3zM281 192h2v1h-2zM283 193h3v1h-3zM286 194h2v1h-2zM288 195h2v1h-2zM290 196h1v1h-1zM291 197h2v1h-2zM293 198h1v1h-1zM294 199h2v1h-2zM296 200h1v1h-1zM297 201h2v1h-2zM299 202h1v1h-1zM300 203h1v1h-1zM301 204h1v1h-1zM302 205h1v1h-1zM303 206h1v1h-1zM304 207h2v1h-2zM306 208h1v1h-1zM307 209h1v1h-1zM308 210h1v1h-1zM309 211h1v1h-1zM310 212h1v1h-1zM311 213h1v1h-1zM312 214h2v1h-2zM314 215h1v1h-1zM315 216h1v1h-1zM316 217h1v1h-1zM317 218h1v1h-1zM318 219h1v1h-1zM319 220h1v1h-1zM320 221h1v1h-1zM321 222h1v1h-1zM322 223h1v1h-1zM323 224h1v2h-1zM324 226h1v1h-1zM325 227h1v2h-1zM326 229h1v2h-1zM327 231h1v2h-1zM328 233h1v1h-1zM329 234h1v2h-1zM330 236h1v2h-1zM331 238h1v1h-1zM332 239h1v2h-1zM333 241h1v1h-1zM334 242h1v1h-1zM335 243h1v2h-1zM336 245h1v1h-1zM337 246h1v2h-1zM338 248h1v1h-1zM339 249h1v1h-1zM340 250h1v2h-1zM341 252h1v1h-1zM342 253h1v1h-1zM343 254h1v2h-1zM344 256h1v1h-1zM345 257h1v1h-1zM346 258h1v2h-1zM347 260h1v1h-1zM348 261h1v1h-1zM349 262h1v1h-1zM350 263h1v1h-1zM351 264h1v1h-1zM352 265h1v2h-1zM353 267h1v1h-1zM354 268h1v1h-1zM355 269h1v2h-1zM356 271h1v1h-1zM357 272h1v2h-1zM358 274h1v1h-1zM359 275h1v2h-1zM360 277h1v2h-1zM361 279h1v1h-1zM362 280h1v2h-1zM363 282h1v2h-1zM364 284h1v2h-1zM365 286h1v2h-1zM366 288h1v1h-1zM367 289h1v2h-1zM368 291h1v2h-1zM369 293h1v2h-1zM370 295h1v2h-1zM371 297h1v2h-1zM372 299h1v1h-1zM373 300h1v2h-1zM374 302h1v2h-1zM375 304h1v2h-1zM376 306h1v1h-1zM377 307h1v2h-1zM378 309h1v2h-1zM379 311h1v1h-1zM380 312h1v2h-1zM381 314h1v2h-1zM382 316h1v2h-1zM383 318h1v1h-1zM384 319h1v2h-1zM385 321h1v2h-1zM386 323h1v1h-1zM387 324h1v2h-1zM388 326h1v2h-1zM389 328h1v1h-1zM390 329h1v2h-1zM391 331h1v1h-1zM392 332h1v2h-1zM393 334h1v2h-1zM394 336h1v1h-1zM395 337h1v2h-1zM396 339h1v1h-1zM397 340h1v2h-1zM398 342h1v1h-1zM399 343h1v1h-1zM400 344h1v2h-1zM401 346h1v1h-1zM402 347h1v1h-1zM403 348h1v1h-1zM404 349h1v2h-1zM405 351h1v1h-1zM406 352h1v1h-1zM407 353h1v1h-1zM408 354h1v2h-1zM409 356h1v1h-1zM410 357h1v1h-1zM411 358h1v1h-1zM412 359h1v1h-1zM413 360h1v1h-1zM414 361h1v1h-1zM415 362h1v1h-1zM416 363h1v1h-1zM417 364h1v1h-1zM418 365h1v1h-1zM419 366h1v1h-1zM420 367h1v1h-1zM421 368h1v1h-1zM422 369h1v1h-1zM423 370h1v1h-1zM424 371h1v1h-1zM425 372h1v1h-1zM426 373h1v1h-1zM427 374h2v1h-2zM429 375h1v1h-1zM430 376h1v1h-1zM431 377h1v1h-1zM432 378h1v1h-1zM433 379h2v1h-2zM435 380h1v1h-1zM436 381h1v1h-1zM437 382h1v1h-1zM438 383h1v1h-1zM439 384h1v1h-1zM440 385h1v1h-1zM441 386h1v1h-1zM442 387h1v1h-1zM443 388h1v1h-1zM444 389h1v1h-1zM445 390h1v1h-1zM446 391h1v1h-1zM447 392h1v1h-1zM448 393h2v1h-2zM450 394h1v1h-1zM451 395h1v1h-1zM452 396h1v1h-1zM453 397h1v1h-1zM454 398h1v1h-1zM455 399h1v1h-1zM456 400h2v1h-2zM458 401h1v1h-1zM459 402h1v1h-1zM460 403h1v1h-1zM461 404h1v1h-1zM462 405h2v1h-2zM464 406h1v1h-1zM465 407h1v1h-1zM466 408h1v1h-1zM467 409h2v1h-2zM469 410h1v1h-1zM470 411h1v1h-1zM471 412h1v1h-1zM472 413h1v1h-1zM473 414h1v1h-1zM474 415h2v1h-2zM476 416h1v1h-1zM477 417h1v1h-1zM478 418h1v2h-1zM479 420h1v1h-1zM480 421h1v1h-1zM481 422h1v1h-1zM482 423h1v1h-1zM483 424h1v1h-1zM484 425h2v1h-2zM486 426h1v1h-1zM487 427h1v1h-1zM488 428h2v1h-2zM490 429h2v1h-2zM492 430h2v1h-2zM494 431h3v1h-3zM497 432h2v1h-2zM499 433h1v1h-1zM500 434h1v1h-1zM501 435h1v1h-1zM502 436h1v1h-1zM503 437h1v1h-1zM504 438h1v1h-1zM505 439h1v1h-1zM506 440h1v1h-1zM507 441h1v1h-1zM508 442h1v1h-1zM509 443h1v1h-1zM510 444h1v1h-1zM511 445h1v1h-1zM512 446h2v1h-2zM514 447h1v1h-1zM515 448h1v1h-1zM516 449h1v1h-1zM517 450h1v1h-1zM518 451h2v1h-2zM520 452h1v1h-1zM521 453h2v1h-2zM523 454h3v1h-3zM526 455h3v1h-3zM529 456h3v1h-3zM532 457h3v1h-3zM535 458h2v1h-2zM537 459h2v1h-2zM539 460h2v1h-2zM541 461h2v1h-2zM543 462h4v1h-4zM547 463h11v1h-11zM558 464h5v1h-5zM563 465h3v1h-3zM566 466h3v1h-3zM569 467h3v1h-3zM572 468h2v1h-2zM574 469h2v1h-2zM576 470h2v1h-2zM578 471h2v1h-2zM580 472h3v1h-3zM583 473h4v1h-4zM587 474h5v1h-5zM592 475h4v1h-4zM596 476h4v1h-4zM600 477h4v1h-4zM604 478h10v1h-10zM614 477h18v1h-18zM632 478h5v1h-5zM637 479h5v1h-5zM642 480h21v1h-21zM663 479h3v1h-3zM666 478h2v1h-2zM668 477h3v1h-3zM671 476h1v1h-1zM672 475h2v1h-2zM674 474h2v1h-2zM676 473h2v1h-2zM678 472h2v1h-2zM680 471h3v1h-3zM683 470h2v1h-2zM685 469h3v1h-3zM688 468h5v1h-5zM693 467h6v1h-6zM699 466h3v1h-3zM702 465h3v1h-3zM705 464h2v1h-2zM707 463h3v1h-3zM710 462h2v1h-2zM712 461h3v1h-3zM715 460h3v1h-3zM718 459h2v1h-2zM720 458h3v1h-3zM723 457h3v1h-3zM726 456h2v1h-2zM728 455h3v1h-3zM731 454h2v1h-2zM733 453h2v1h-2zM735 452h4v1h-4zM739 451h11v1h-11zM750 452h5v1h-5zM755 453h4v1h-4zM759 454h4v1h-4zM763 455h4v1h-4zM767 456h5v1h-5zM772 457h9v1h-9zM781 458h5v1h-5zM786 459h1v1h-1zM787 460h1v1h-1zM788 461h2v1h-2zM790 462h1v1h-1zM791 463h2v1h-2zM793 464h3v1h-3zM796 465h5v1h-5zM801 466h5v1h-5zM806 467h3v1h-3zM809 468h3v1h-3zM812 469h3v1h-3zM815 470h8v1h-8zM823 471h6v1h-6zM829 472h3v1h-3zM832 473h4v1h-4zM836 474h4v1h-4zM840 475h38v1h-38zM878 476h12v1h-12zM890 475h3v1h-3zM893 474h5v1h-5zM898 473h3v1h-3zM901 472h4v1h-4zM905 471h4v1h-4zM909 470h4v1h-4zM913 469h4v1h-4zM917 468h4v1h-4zM921 467h5v1h-5zM926 466h3v1h-3zM929 465h3v1h-3zM932 464h2v1h-2zM934 463h3v1h-3zM937 462h2v1h-2zM939 461h3v1h-3zM942 460h2v1h-2zM944 459h3v1h-3zM947 458h2v1h-2zM949 457h2v1h-2zM951 456h2v1h-2zM953 455h2v1h-2zM955 454h1v1h-1zM956 453h1v1h-1zM957 452h2v1h-2zM959 451h1v1h-1zM960 450h1v1h-1zM961 449h1v1h-1zM962 448h2v1h-2zM964 447h1v1h-1zM965 446h2v1h-2zM967 445h1v1h-1zM968 444h2v1h-2zM970 443h1v1h-1zM971 442h2v1h-2zM973 441h1v1h-1zM974 440h2v1h-2zM976 439h1v1h-1zM977 438h2v1h-2zM979 437h3v1h-3zM982 436h22v1h-22zM1004 437h3v1h-3zM1007 438h2v1h-2zM1009 439h3v1h-3zM1012 440h3v1h-3zM1015 441h4v1h-4zM1019 442h4v1h-4zM1023 443h4v1h-4zM1027 444h6v1h-6zM1033 445h7v1h-7zM1040 446h9v1h-9zM1049 447h4v1h-4zM1053 448h3v1h-3zM1056 449h3v1h-3zM1059 450h3v1h-3zM1062 451h2v1h-2zM1064 452h2v1h-2zM1066 453h2v1h-2zM1068 454h4v1h-4zM1072 455h7v1h-7zM1079 454h4v1h-4zM1083 453h4v1h-4zM1087 452h3v1h-3zM1090 451h3v1h-3zM1093 450h2v1h-2zM1095 449h3v1h-3zM1098 448h3v1h-3zM1101 447h3v1h-3zM1104 446h4v1h-4zM1108 445h4v1h-4zM1112 444h6v1h-6zM1118 443h14v1h-14zM1132 442h9v1h-9zM1141 441h3v1h-3zM1144 440h4v1h-4zM1148 439h3v1h-3zM1151 438h4v1h-4zM1155 437h4v1h-4zM1159 436h8v1h-8zM1167 435h3v1h-3zM1170 434h3v1h-3zM1173 433h2v1h-2zM1175 432h3v1h-3zM1178 431h2v1h-2zM1180 430h2v1h-2zM1182 429h2v1h-2zM1184 428h2v1h-2zM1186 427h2v1h-2zM1188 426h1v1h-1zM1189 425h2v1h-2zM1191 424h1v1h-1zM1192 423h1v1h-1zM1193 422h1v1h-1zM1194 421h1v1h-1zM1195 420h1v1h-1zM1196 419h1v1h-1zM1197 418h2v1h-2zM1199 417h1v1h-1zM1200 416h1v1h-1zM1201 415h1v1h-1zM1202 414h1v1h-1zM1203 413h1v1h-1zM1204 412h1v1h-1zM1205 411h1v1h-1zM1206 410h1v1h-1zM1207 409h1v1h-1zM1208 408h1v1h-1zM1209 407h1v1h-1zM1210 406h1v1h-1zM1211 405h1v1h-1zM1212 404h1v1h-1zM1213 403h1v1h-1zM1214 402h1v1h-1zM1215 401h1v1h-1zM1216 400h1v1h-1zM1217 399h1v1h-1zM1218 398h1v1h-1zM1219 397h1v1h-1zM1220 396h1v1h-1zM1221 395h1v1h-1zM1222 394h1v1h-1zM1223 393h1v1h-1zM1224 392h1v1h-1zM1225 391h1v1h-1zM1226 390h1v1h-1zM1227 389h1v1h-1zM1228 388h1v1h-1zM1229 387h1v1h-1zM1230 386h1v1h-1zM1231 385h1v1h-1zM1232 384h1v1h-1zM1233 383h1v1h-1zM1234 382h1v1h-1zM1235 381h1v1h-1zM1236 380h2v1h-2zM1238 379h1v1h-1zM1239 378h1v1h-1zM1240 377h2v1h-2zM1242 376h1v1h-1zM1243 375h2v1h-2zM1245 374h2v1h-2zM1247 373h2v1h-2zM1249 372h2v1h-2zM1251 371h3v1h-3zM1254 370h2v1h-2zM1256 369h2v1h-2zM1258 368h3v1h-3zM1261 367h2v1h-2zM1263 366h3v1h-3zM1266 365h2v1h-2zM1268 364h3v1h-3zM1271 363h2v1h-2zM1273 362h3v1h-3zM1276 361h3v1h-3zM1279 360h3v1h-3zM1282 359h3v1h-3zM1285 358h4v1h-4zM1289 357h3v1h-3zM1292 356h4v1h-4zM1296 355h4v1h-4zM1300 354h4v1h-4zM1304 353h3v1h-3zM1307 352h3v1h-3zM1310 351h3v1h-3zM1313 350h2v1h-2zM1315 349h2v1h-2zM1317 348h3v1h-3zM1320 347h2v1h-2zM1322 346h2v1h-2zM1324 345h3v1h-3zM1327 344h2v1h-2zM1329 343h3v1h-3zM1332 342h3v1h-3zM1335 341h2v1h-2zM1337 340h3v1h-3zM1340 339h2v1h-2zM1342 338h3v1h-3zM1345 337h4v1h-4zM1349 336h11v1h-11zM1360 337h9v1h-9zM1369 338h8v1h-8zM1377 339h6v1h-6zM1383 340h5v1h-5zM1388 341h5v1h-5zM1393 342h4v1h-4zM1397 343h4v1h-4zM1401 344h3v1h-3zM1404 345h3v1h-3zM1407 346h2v1h-2zM1409 347h2v1h-2zM1411 348h2v1h-2zM1413 349h2v1h-2zM1415 350h2v1h-2zM1417 351h3v1h-3zM1420 352h2v1h-2zM1422 353h2v1h-2zM1424 354h3v1h-3zM1427 355h2v1h-2zM1429 356h2v1h-2zM1431 357h1v1h-1zM1432 358h2v1h-2zM1434 359h2v1h-2zM1436 360h1v1h-1zM1437 361h2v1h-2zM1439 362h1v1h-1zM1440 363h2v1h-2zM1442 364h1v1h-1zM1443 365h2v1h-2zM1445 366h1v1h-1zM1446 367h1v1h-1zM1447 368h2v1h-2zM1449 369h1v1h-1zM1450 370h2v1h-2zM1452 371h1v1h-1zM1453 372h1v1h-1zM1454 373h2v1h-2zM1456 374h1v1h-1zM1457 375h1v1h-1zM1458 376h2v1h-2zM1460 377h1v1h-1zM1461 378h2v1h-2zM1463 379h1v1h-1zM1464 380h1v1h-1zM1465 381h2v1h-2zM1467 382h2v1h-2zM1469 383h1v1h-1zM1470 384h2v1h-2zM1472 385h1v1h-1zM1473 386h2v1h-2zM1475 387h2v1h-2zM1477 388h2v1h-2zM1479 389h1v1h-1zM1480 390h2v1h-2zM1482 391h2v1h-2zM1484 392h1v1h-1zM1485 393h2v1h-2zM1487 394h1v1h-1zM1488 395h2v1h-2zM1490 396h2v1h-2zM1492 397h2v1h-2zM1494 398h2v1h-2zM1496 399h2v1h-2zM1498 400h2v1h-2zM1500 401h2v1h-2zM1502 402h2v1h-2zM1504 403h2v1h-2zM1506 404h2v1h-2zM1508 405h3v1h-3zM1511 406h2v1h-2zM1513 407h3v1h-3zM1516 408h3v1h-3zM1519 409h3v1h-3zM1522 410h3v1h-3zM1525 411h4v1h-4zM1529 412h4v1h-4zM1533 413h3v1h-3zM1536 414h5v1h-5zM1541 415h5v1h-5zM1546 416h5v1h-5zM1551 417h6v1h-6zM1557 418h10v1h-10zM1567 419h25v1h-25zM1592 418h4v1h-4zM1596 417h4v1h-4zM1600 416h3v1h-3zM1603 415h3v1h-3zM1606 414h3v1h-3zM1609 413h4v1h-4zM1613 412h4v1h-4zM1617 411h48v1h-48z" fill="#ffa500" shape-rendering="crispEdges"/>
<g shape-rendering="crispEdges">
<rect x="1" y="306" width="1686" height="2" fill="#ff0000"/>
<rect x="1" y="397" width="1686" height="2" fill="#32cd32"/>
<rect x="1" y="503" width="1686" height="2" fill="#4169e1"/>
<rect x="0" y="0" width="1687" height="1" fill="#000"/>
<rect x="0" y="562" width="1687" height="1" fill="#000"/>
<rect x="0" y="0" width="1" height="563" fill="#000"/>
<rect x="0" y="564" width="1687" height="1" fill="#000"/>
<rect x="0" y="689" width="1687" height="1" fill="#000"/>
<rect x="0" y="564" width="1" height="126" fill="#000"/>
<rect x="0" y="691" width="1687" height="1" fill="#000"/>
<rect x="0" y="816" width="1687" height="1" fill="#000"/>
<rect x="0" y="691" width="1" height="126" fill="#000"/>
<rect x="1686" y="0" width="1" height="817" fill="#000"/>
<rect x="1686" y="306" width="1" height="2" fill="#ff0000"/>
<rect x="1686" y="397" width="1" height="2" fill="#32cd32"/>
<rect x="1686" y="503" width="1" height="2" fill="#4169e1"/>
<rect x="1686" y="444" width="1" height="1" fill="#708090"/>
</g>
<g shape-rendering="crispEdges">
<rect x="1687" y="31" width="2" height="1" fill="#000"/>
<rect x="1687" y="64" width="2" height="1" fill="#000"/>
<rect x="1687" y="97" width="2" height="1" fill="#000"/>
<rect x="1687" y="130" width="2" height="1" fill="#000"/>
<rect x="1687" y="163" width="2" height="1" fill="#000"/>
<rect x="1687" y="196" width="2" height="1" fill="#000"/>
<rect x="1687" y="229" width="2" height="1" fill="#000"/>
<rect x="1687" y="262" width="2" height="1" fill="#000"/>
<rect x="1687" y="295" width="2" height="1" fill="#000"/>
<rect x="1687" y="328" width="2" height="1" fill="#000"/>
<rect x="1687" y="361" width="2" height="1" fill="#000"/>
<rect x="1687" y="394" width="2" height="1" fill="#000"/>
<rect x="1687" y="427" width="2" height="1" fill="#000"/>
<rect x="1687" y="460" width="2" height="1" fill="#000"/>
<rect x="1687" y="493" width="2" height="1" fill="#000"/>
<rect x="1687" y="526" width="2" height="1" fill="#000"/>
<rect x="1687" y="559" width="2" height="1" fill="#000"/>
</g>
<text transform="translate(1692,35) scale(1,1.11)" font-size="9" fill="#000" stroke="#000" stroke-width="0.15" textLength="28" lengthAdjust="spacing" xml:space="preserve">5906.0</text>
<text transform="translate(1692,68) scale(1,1.11)" font-size="9" fill="#000" stroke="#000" stroke-width="0.15" textLength="28" lengthAdjust="spacing" xml:space="preserve">5838.0</text>
<text transform="translate(1692,101) scale(1,1.11)" font-size="9" fill="#000" stroke="#000" stroke-width="0.15" textLength="28" lengthAdjust="spacing" xml:space="preserve">5772.0</text>
<text transform="translate(1692,134) scale(1,1.11)" font-size="9" fill="#000" stroke="#000" stroke-width="0.15" textLength="28" lengthAdjust="spacing" xml:space="preserve">5704.0</text>
<text transform="translate(1692,167) scale(1,1.11)" font-size="9" fill="#000" stroke="#000" stroke-width="0.15" textLength="28" lengthAdjust="spacing" xml:space="preserve">5638.0</text>
<text transform="translate(1692,200) scale(1,1.11)" font-size="9" fill="#000" stroke="#000" stroke-width="0.15" textLength="28" lengthAdjust="spacing" xml:space="preserve">5570.0</text>
<text transform="translate(1692,233) scale(1,1.11)" font-size="9" fill="#000" stroke="#000" stroke-width="0.15" textLength="28" lengthAdjust="spacing" xml:space="preserve">5504.0</text>
<text transform="translate(1692,266) scale(1,1.11)" font-size="9" fill="#000" stroke="#000" stroke-width="0.15" textLength="28" lengthAdjust="spacing" xml:space="preserve">5436.0</text>
<text transform="translate(1692,299) scale(1,1.11)" font-size="9" fill="#000" stroke="#000" stroke-width="0.15" textLength="28" lengthAdjust="spacing" xml:space="preserve">5370.0</text>
<text transform="translate(1692,332) scale(1,1.11)" font-size="9" fill="#000" stroke="#000" stroke-width="0.15" textLength="28" lengthAdjust="spacing" xml:space="preserve">5302.0</text>
<text transform="translate(1692,365) scale(1,1.11)" font-size="9" fill="#000" stroke="#000" stroke-width="0.15" textLength="28" lengthAdjust="spacing" xml:space="preserve">5236.0</text>
<text transform="translate(1692,398) scale(1,1.11)" font-size="9" fill="#000" stroke="#000" stroke-width="0.15" textLength="28" lengthAdjust="spacing" xml:space="preserve">5168.0</text>
<text transform="translate(1692,431) scale(1,1.11)" font-size="9" fill="#000" stroke="#000" stroke-width="0.15" textLength="28" lengthAdjust="spacing" xml:space="preserve">5102.0</text>
<text transform="translate(1692,464) scale(1,1.11)" font-size="9" fill="#000" stroke="#000" stroke-width="0.15" textLength="28" lengthAdjust="spacing" xml:space="preserve">5034.0</text>
<text transform="translate(1692,497) scale(1,1.11)" font-size="9" fill="#000" stroke="#000" stroke-width="0.15" textLength="28" lengthAdjust="spacing" xml:space="preserve">4968.0</text>
<text transform="translate(1692,530) scale(1,1.11)" font-size="9" fill="#000" stroke="#000" stroke-width="0.15" textLength="28" lengthAdjust="spacing" xml:space="preserve">4900.0</text>
<text transform="translate(1692,563) scale(1,1.11)" font-size="9" fill="#000" stroke="#000" stroke-width="0.15" textLength="28" lengthAdjust="spacing" xml:space="preserve">4834.0</text>
<rect x="1688" y="301" width="36" height="11" fill="#ff0000" shape-rendering="crispEdges"/>
<text transform="translate(1692,310) scale(1,1.11)" font-size="9" fill="#fff" stroke="#fff" stroke-width="0.15" textLength="28" lengthAdjust="spacing" xml:space="preserve">5345.0</text>
<rect x="1688" y="392" width="36" height="11" fill="#32cd32" shape-rendering="crispEdges"/>
<text transform="translate(1692,401) scale(1,1.11)" font-size="9" fill="#fff" stroke="#fff" stroke-width="0.15" textLength="28" lengthAdjust="spacing" xml:space="preserve">5160.0</text>
<rect x="1688" y="439" width="36" height="11" fill="#000000" shape-rendering="crispEdges"/>
<text transform="translate(1692,448) scale(1,1.11)" font-size="9" fill="#fff" stroke="#fff" stroke-width="0.15" textLength="28" lengthAdjust="spacing" xml:space="preserve">5066.0</text>
<rect x="1688" y="498" width="36" height="11" fill="#4169e1" shape-rendering="crispEdges"/>
<text transform="translate(1692,507) scale(1,1.11)" font-size="9" fill="#fff" stroke="#fff" stroke-width="0.15" textLength="28" lengthAdjust="spacing" xml:space="preserve">4945.0</text>
<path d="M4 7h7v1h-1v1h-1v1h-1v1h-1v-1h-1v-1h-1v-1h-1z" fill="#000" shape-rendering="crispEdges"/>
<text transform="translate(16,12) scale(1,1.11)" font-size="9" fill="#000" stroke="#000" stroke-width="0.15" textLength="65" lengthAdjust="spacing" xml:space="preserve">CHINA300-,H4</text>
<text transform="translate(87,12) scale(1,1.11)" font-size="9" fill="#000" stroke="#000" stroke-width="0.15" textLength="27.5" lengthAdjust="spacing" xml:space="preserve">5038.5</text>
<text transform="translate(118,12) scale(1,1.11)" font-size="9" fill="#000" stroke="#000" stroke-width="0.15" textLength="27.5" lengthAdjust="spacing" xml:space="preserve">5066.8</text>
<text transform="translate(149,12) scale(1,1.11)" font-size="9" fill="#000" stroke="#000" stroke-width="0.15" textLength="27.5" lengthAdjust="spacing" xml:space="preserve">5011.0</text>
<text transform="translate(180,12) scale(1,1.11)" font-size="9" fill="#000" stroke="#000" stroke-width="0.15" textLength="27.5" lengthAdjust="spacing" xml:space="preserve">5066.0</text>
<path d="M939.2 177.6 L924.9 188 M935.7 182.4 L953.7 182.4 Q945 192 923.9 196.7 M934 187 L938.1 190.8 M945.4 191.9 L926 203.3 M943 195.3 L955.5 195.3 Q946 207 924.6 211 M937.8 201.9 L941.6 206.1" fill="none" stroke="#ed1c24" stroke-width="2.7" stroke-linecap="butt" stroke-linejoin="bevel"/>
<path d="M974.6 177.6 L977 181.5 M961.4 188.7 L961.4 183 L990.5 183 L990.5 188.7 M972.1 187 L959.6 195.7 M979.8 187 L992.3 195.7 M963.5 196.7 L988.1 196.7 M975.8 196.7 L975.8 208.5 M960 208.5 L991.9 208.5 M995 183.9 L1009.6 183.9 M1002.3 177.3 L996.4 195.7 L1009.6 195.7 M1003.5 187.7 L1003.5 211.6 M994.7 204.4 L1010 201.6 M1011.7 183.9 L1028 183.9 M1010 190.8 L1029.4 190.8 M1018.6 177.3 L1015.2 190.8 L1014.1 197.4 L1027 197.4 L1020 206.1 M1012.7 202.6 L1024.5 211 M1031.2 185.6 L1042.7 185.6 M1036.9 178 L1036.9 207.5 Q1036.9 210.3 1031.6 210.3 M1030.9 197.8 L1042 193.9 M1063.9 179.7 L1046.2 181.8 M1046.2 181.8 L1046.2 192.2 Q1046.2 204 1041.7 211 M1046.2 192.2 L1065.3 192.2 M1057.6 192.2 L1057.6 211.6 M1083.4 177.3 L1083.4 188.7 M1083.4 182.6 L1100.7 182.6 M1072.5 201.6 L1072.5 189.1 L1095.8 189.1 L1095.8 201.6 M1072.5 199.2 L1095.8 199.2 M1072.2 203.3 L1067.7 210.6 M1078.4 203 L1080.9 210.3 M1086.8 203 L1089.5 209.9 M1095.1 203 L1099.6 210.6" fill="none" stroke="#ed1c24" stroke-width="2.7" stroke-linecap="butt" stroke-linejoin="miter"/>
<path d="M 1118.82 181.55 L 1107.88 181.55 L 1107.00 192.43 C 1110.77 190.88 1118.99 191.43 1118.99 199.21 C 1118.99 204.20 1115.21 206.31 1111.05 206.31 C 1108.55 206.31 1106.33 205.59 1105.11 204.76 M 1161.74 181.88 C 1159.63 180.88 1155.75 180.33 1152.69 183.10 C 1149.08 186.44 1147.58 190.88 1147.58 196.43 C 1147.58 203.09 1150.75 206.31 1155.19 206.31 C 1159.63 206.31 1162.41 203.09 1162.41 198.65 C 1162.41 194.21 1159.63 191.54 1155.47 191.54 C 1151.30 191.54 1148.53 194.21 1147.97 196.99" fill="none" stroke="#ed1c24" stroke-width="2.9" stroke-linejoin="miter"/>
<path d="M 1134.76 179.22 L 1134.76 207.26" fill="none" stroke="#ed1c24" stroke-width="3.5"/>
<path d="M 1134.37 180.77 L 1126.98 185.44" fill="none" stroke="#ed1c24" stroke-width="3"/>
<ellipse cx="1175.73" cy="193.52" rx="7.4" ry="12.85" fill="none" stroke="#ed1c24" stroke-width="3"/>
<g clip-path="url(#cd)" shape-rendering="crispEdges">
<rect x="1" y="594" width="1" height="20" fill="#c0c0c0"/>
<rect x="9" y="601" width="1" height="13" fill="#c0c0c0"/>
<rect x="17" y="607" width="1" height="7" fill="#c0c0c0"/>
<rect x="25" y="611" width="1" height="3" fill="#c0c0c0"/>
<rect x="33" y="613" width="1" height="3" fill="#c0c0c0"/>
<rect x="41" y="613" width="1" height="6" fill="#c0c0c0"/>
<rect x="49" y="613" width="1" height="6" fill="#c0c0c0"/>
<rect x="57" y="613" width="1" height="5" fill="#c0c0c0"/>
<rect x="65" y="613" width="1" height="3" fill="#c0c0c0"/>
<rect x="73" y="613" width="1" height="1" fill="#c0c0c0"/>
<rect x="81" y="613" width="1" height="1" fill="#c0c0c0"/>
<rect x="89" y="613" width="1" height="1" fill="#c0c0c0"/>
<rect x="97" y="612" width="1" height="2" fill="#c0c0c0"/>
<rect x="105" y="611" width="1" height="3" fill="#c0c0c0"/>
<rect x="113" y="610" width="1" height="4" fill="#c0c0c0"/>
<rect x="121" y="607" width="1" height="7" fill="#c0c0c0"/>
<rect x="129" y="605" width="1" height="9" fill="#c0c0c0"/>
<rect x="137" y="599" width="1" height="15" fill="#c0c0c0"/>
<rect x="145" y="593" width="1" height="21" fill="#c0c0c0"/>
<rect x="153" y="585" width="1" height="29" fill="#c0c0c0"/>
<rect x="161" y="577" width="1" height="37" fill="#c0c0c0"/>
<rect x="169" y="575" width="1" height="39" fill="#c0c0c0"/>
<rect x="177" y="573" width="1" height="41" fill="#c0c0c0"/>
<rect x="185" y="573" width="1" height="41" fill="#c0c0c0"/>
<rect x="193" y="572" width="1" height="42" fill="#c0c0c0"/>
<rect x="201" y="575" width="1" height="39" fill="#c0c0c0"/>
<rect x="209" y="582" width="1" height="32" fill="#c0c0c0"/>
<rect x="217" y="587" width="1" height="27" fill="#c0c0c0"/>
<rect x="225" y="592" width="1" height="22" fill="#c0c0c0"/>
<rect x="233" y="601" width="1" height="13" fill="#c0c0c0"/>
<rect x="241" y="610" width="1" height="4" fill="#c0c0c0"/>
<rect x="257" y="613" width="1" height="4" fill="#c0c0c0"/>
<rect x="265" y="613" width="1" height="12" fill="#c0c0c0"/>
<rect x="273" y="613" width="1" height="20" fill="#c0c0c0"/>
<rect x="281" y="613" width="1" height="24" fill="#c0c0c0"/>
<rect x="289" y="613" width="1" height="25" fill="#c0c0c0"/>
<rect x="297" y="613" width="1" height="29" fill="#c0c0c0"/>
<rect x="305" y="613" width="1" height="32" fill="#c0c0c0"/>
<rect x="313" y="613" width="1" height="31" fill="#c0c0c0"/>
<rect x="321" y="613" width="1" height="27" fill="#c0c0c0"/>
<rect x="329" y="613" width="1" height="32" fill="#c0c0c0"/>
<rect x="337" y="613" width="1" height="35" fill="#c0c0c0"/>
<rect x="345" y="613" width="1" height="38" fill="#c0c0c0"/>
<rect x="353" y="613" width="1" height="40" fill="#c0c0c0"/>
<rect x="361" y="613" width="1" height="46" fill="#c0c0c0"/>
<rect x="369" y="613" width="1" height="52" fill="#c0c0c0"/>
<rect x="377" y="613" width="1" height="57" fill="#c0c0c0"/>
<rect x="385" y="613" width="1" height="65" fill="#c0c0c0"/>
<rect x="393" y="613" width="1" height="67" fill="#c0c0c0"/>
<rect x="401" y="613" width="1" height="70" fill="#c0c0c0"/>
<rect x="409" y="613" width="1" height="67" fill="#c0c0c0"/>
<rect x="417" y="613" width="1" height="63" fill="#c0c0c0"/>
<rect x="425" y="613" width="1" height="59" fill="#c0c0c0"/>
<rect x="433" y="613" width="1" height="55" fill="#c0c0c0"/>
<rect x="441" y="613" width="1" height="55" fill="#c0c0c0"/>
<rect x="449" y="613" width="1" height="54" fill="#c0c0c0"/>
<rect x="457" y="613" width="1" height="52" fill="#c0c0c0"/>
<rect x="465" y="613" width="1" height="50" fill="#c0c0c0"/>
<rect x="473" y="613" width="1" height="47" fill="#c0c0c0"/>
<rect x="481" y="613" width="1" height="44" fill="#c0c0c0"/>
<rect x="489" y="613" width="1" height="41" fill="#c0c0c0"/>
<rect x="497" y="613" width="1" height="38" fill="#c0c0c0"/>
<rect x="505" y="613" width="1" height="40" fill="#c0c0c0"/>
<rect x="513" y="613" width="1" height="42" fill="#c0c0c0"/>
<rect x="521" y="613" width="1" height="41" fill="#c0c0c0"/>
<rect x="529" y="613" width="1" height="40" fill="#c0c0c0"/>
<rect x="537" y="613" width="1" height="41" fill="#c0c0c0"/>
<rect x="545" y="613" width="1" height="40" fill="#c0c0c0"/>
<rect x="553" y="613" width="1" height="40" fill="#c0c0c0"/>
<rect x="561" y="613" width="1" height="41" fill="#c0c0c0"/>
<rect x="569" y="613" width="1" height="42" fill="#c0c0c0"/>
<rect x="577" y="613" width="1" height="40" fill="#c0c0c0"/>
<rect x="585" y="613" width="1" height="35" fill="#c0c0c0"/>
<rect x="593" y="613" width="1" height="30" fill="#c0c0c0"/>
<rect x="601" y="613" width="1" height="26" fill="#c0c0c0"/>
<rect x="609" y="613" width="1" height="23" fill="#c0c0c0"/>
<rect x="617" y="613" width="1" height="18" fill="#c0c0c0"/>
<rect x="625" y="613" width="1" height="15" fill="#c0c0c0"/>
<rect x="633" y="613" width="1" height="14" fill="#c0c0c0"/>
<rect x="641" y="613" width="1" height="13" fill="#c0c0c0"/>
<rect x="649" y="613" width="1" height="10" fill="#c0c0c0"/>
<rect x="657" y="613" width="1" height="6" fill="#c0c0c0"/>
<rect x="665" y="613" width="1" height="1" fill="#c0c0c0"/>
<rect x="673" y="612" width="1" height="2" fill="#c0c0c0"/>
<rect x="681" y="611" width="1" height="3" fill="#c0c0c0"/>
<rect x="689" y="609" width="1" height="5" fill="#c0c0c0"/>
<rect x="697" y="610" width="1" height="4" fill="#c0c0c0"/>
<rect x="705" y="611" width="1" height="3" fill="#c0c0c0"/>
<rect x="713" y="609" width="1" height="5" fill="#c0c0c0"/>
<rect x="721" y="609" width="1" height="5" fill="#c0c0c0"/>
<rect x="729" y="611" width="1" height="3" fill="#c0c0c0"/>
<rect x="737" y="613" width="1" height="1" fill="#c0c0c0"/>
<rect x="745" y="613" width="1" height="4" fill="#c0c0c0"/>
<rect x="753" y="613" width="1" height="7" fill="#c0c0c0"/>
<rect x="761" y="613" width="1" height="9" fill="#c0c0c0"/>
<rect x="769" y="613" width="1" height="11" fill="#c0c0c0"/>
<rect x="777" y="613" width="1" height="13" fill="#c0c0c0"/>
<rect x="785" y="613" width="1" height="13" fill="#c0c0c0"/>
<rect x="793" y="613" width="1" height="18" fill="#c0c0c0"/>
<rect x="801" y="613" width="1" height="19" fill="#c0c0c0"/>
<rect x="809" y="613" width="1" height="20" fill="#c0c0c0"/>
<rect x="817" y="613" width="1" height="19" fill="#c0c0c0"/>
<rect x="825" y="613" width="1" height="14" fill="#c0c0c0"/>
<rect x="833" y="613" width="1" height="8" fill="#c0c0c0"/>
<rect x="841" y="613" width="1" height="4" fill="#c0c0c0"/>
<rect x="849" y="613" width="1" height="2" fill="#c0c0c0"/>
<rect x="857" y="612" width="1" height="2" fill="#c0c0c0"/>
<rect x="865" y="610" width="1" height="4" fill="#c0c0c0"/>
<rect x="873" y="609" width="1" height="5" fill="#c0c0c0"/>
<rect x="881" y="608" width="1" height="6" fill="#c0c0c0"/>
<rect x="889" y="606" width="1" height="8" fill="#c0c0c0"/>
<rect x="897" y="603" width="1" height="11" fill="#c0c0c0"/>
<rect x="905" y="601" width="1" height="13" fill="#c0c0c0"/>
<rect x="913" y="603" width="1" height="11" fill="#c0c0c0"/>
<rect x="921" y="605" width="1" height="9" fill="#c0c0c0"/>
<rect x="929" y="605" width="1" height="9" fill="#c0c0c0"/>
<rect x="937" y="604" width="1" height="10" fill="#c0c0c0"/>
<rect x="945" y="603" width="1" height="11" fill="#c0c0c0"/>
<rect x="953" y="602" width="1" height="12" fill="#c0c0c0"/>
<rect x="961" y="601" width="1" height="13" fill="#c0c0c0"/>
<rect x="969" y="600" width="1" height="14" fill="#c0c0c0"/>
<rect x="977" y="600" width="1" height="14" fill="#c0c0c0"/>
<rect x="985" y="603" width="1" height="11" fill="#c0c0c0"/>
<rect x="993" y="605" width="1" height="9" fill="#c0c0c0"/>
<rect x="1001" y="608" width="1" height="6" fill="#c0c0c0"/>
<rect x="1009" y="612" width="1" height="2" fill="#c0c0c0"/>
<rect x="1017" y="613" width="1" height="1" fill="#c0c0c0"/>
<rect x="1025" y="613" width="1" height="5" fill="#c0c0c0"/>
<rect x="1033" y="613" width="1" height="7" fill="#c0c0c0"/>
<rect x="1041" y="613" width="1" height="7" fill="#c0c0c0"/>
<rect x="1049" y="613" width="1" height="8" fill="#c0c0c0"/>
<rect x="1057" y="613" width="1" height="7" fill="#c0c0c0"/>
<rect x="1065" y="613" width="1" height="8" fill="#c0c0c0"/>
<rect x="1073" y="613" width="1" height="8" fill="#c0c0c0"/>
<rect x="1081" y="613" width="1" height="5" fill="#c0c0c0"/>
<rect x="1089" y="613" width="1" height="1" fill="#c0c0c0"/>
<rect x="1097" y="608" width="1" height="6" fill="#c0c0c0"/>
<rect x="1105" y="603" width="1" height="11" fill="#c0c0c0"/>
<rect x="1113" y="600" width="1" height="14" fill="#c0c0c0"/>
<rect x="1121" y="597" width="1" height="17" fill="#c0c0c0"/>
<rect x="1129" y="596" width="1" height="18" fill="#c0c0c0"/>
<rect x="1137" y="595" width="1" height="19" fill="#c0c0c0"/>
<rect x="1145" y="595" width="1" height="19" fill="#c0c0c0"/>
<rect x="1153" y="595" width="1" height="19" fill="#c0c0c0"/>
<rect x="1161" y="598" width="1" height="16" fill="#c0c0c0"/>
<rect x="1169" y="600" width="1" height="14" fill="#c0c0c0"/>
<rect x="1177" y="602" width="1" height="12" fill="#c0c0c0"/>
<rect x="1185" y="602" width="1" height="12" fill="#c0c0c0"/>
<rect x="1193" y="598" width="1" height="16" fill="#c0c0c0"/>
<rect x="1201" y="592" width="1" height="22" fill="#c0c0c0"/>
<rect x="1209" y="588" width="1" height="26" fill="#c0c0c0"/>
<rect x="1217" y="585" width="1" height="29" fill="#c0c0c0"/>
<rect x="1225" y="583" width="1" height="31" fill="#c0c0c0"/>
<rect x="1233" y="581" width="1" height="33" fill="#c0c0c0"/>
<rect x="1241" y="580" width="1" height="34" fill="#c0c0c0"/>
<rect x="1249" y="580" width="1" height="34" fill="#c0c0c0"/>
<rect x="1257" y="581" width="1" height="33" fill="#c0c0c0"/>
<rect x="1265" y="582" width="1" height="32" fill="#c0c0c0"/>
<rect x="1273" y="582" width="1" height="32" fill="#c0c0c0"/>
<rect x="1281" y="583" width="1" height="31" fill="#c0c0c0"/>
<rect x="1289" y="586" width="1" height="28" fill="#c0c0c0"/>
<rect x="1297" y="589" width="1" height="25" fill="#c0c0c0"/>
<rect x="1305" y="591" width="1" height="23" fill="#c0c0c0"/>
<rect x="1313" y="595" width="1" height="19" fill="#c0c0c0"/>
<rect x="1321" y="596" width="1" height="18" fill="#c0c0c0"/>
<rect x="1329" y="598" width="1" height="16" fill="#c0c0c0"/>
<rect x="1337" y="601" width="1" height="13" fill="#c0c0c0"/>
<rect x="1345" y="602" width="1" height="12" fill="#c0c0c0"/>
<rect x="1353" y="605" width="1" height="9" fill="#c0c0c0"/>
<rect x="1361" y="607" width="1" height="7" fill="#c0c0c0"/>
<rect x="1369" y="609" width="1" height="5" fill="#c0c0c0"/>
<rect x="1377" y="610" width="1" height="4" fill="#c0c0c0"/>
<rect x="1385" y="608" width="1" height="6" fill="#c0c0c0"/>
<rect x="1393" y="608" width="1" height="6" fill="#c0c0c0"/>
<rect x="1401" y="610" width="1" height="4" fill="#c0c0c0"/>
<rect x="1409" y="612" width="1" height="2" fill="#c0c0c0"/>
<rect x="1417" y="613" width="1" height="1" fill="#c0c0c0"/>
<rect x="1425" y="613" width="1" height="5" fill="#c0c0c0"/>
<rect x="1433" y="613" width="1" height="10" fill="#c0c0c0"/>
<rect x="1441" y="613" width="1" height="14" fill="#c0c0c0"/>
<rect x="1449" y="613" width="1" height="18" fill="#c0c0c0"/>
<rect x="1457" y="613" width="1" height="22" fill="#c0c0c0"/>
<rect x="1465" y="613" width="1" height="25" fill="#c0c0c0"/>
<rect x="1473" y="613" width="1" height="26" fill="#c0c0c0"/>
<rect x="1481" y="613" width="1" height="27" fill="#c0c0c0"/>
<rect x="1489" y="613" width="1" height="27" fill="#c0c0c0"/>
<rect x="1497" y="613" width="1" height="26" fill="#c0c0c0"/>
<rect x="1505" y="613" width="1" height="24" fill="#c0c0c0"/>
<rect x="1513" y="613" width="1" height="22" fill="#c0c0c0"/>
<rect x="1521" y="613" width="1" height="19" fill="#c0c0c0"/>
<rect x="1529" y="613" width="1" height="18" fill="#c0c0c0"/>
<rect x="1537" y="613" width="1" height="15" fill="#c0c0c0"/>
<rect x="1545" y="613" width="1" height="9" fill="#c0c0c0"/>
<rect x="1553" y="613" width="1" height="5" fill="#c0c0c0"/>
<rect x="1561" y="613" width="1" height="1" fill="#c0c0c0"/>
<rect x="1569" y="612" width="1" height="2" fill="#c0c0c0"/>
<rect x="1577" y="612" width="1" height="2" fill="#c0c0c0"/>
<rect x="1585" y="612" width="1" height="2" fill="#c0c0c0"/>
<rect x="1593" y="611" width="1" height="3" fill="#c0c0c0"/>
<rect x="1601" y="610" width="1" height="4" fill="#c0c0c0"/>
<rect x="1609" y="610" width="1" height="4" fill="#c0c0c0"/>
<rect x="1617" y="611" width="1" height="3" fill="#c0c0c0"/>
<rect x="1625" y="613" width="1" height="1" fill="#c0c0c0"/>
<rect x="1633" y="613" width="1" height="6" fill="#c0c0c0"/>
<rect x="1641" y="613" width="1" height="9" fill="#c0c0c0"/>
<rect x="1649" y="613" width="1" height="11" fill="#c0c0c0"/>
<rect x="1657" y="613" width="1" height="14" fill="#c0c0c0"/>
<rect x="1665" y="613" width="1" height="14" fill="#c0c0c0"/>
</g>
<path clip-path="url(#cd)" d="M1 585h3v1h-3zM7 587h3v1h-3zM13 589h2v1h-2zM15 590h1v1h-1zM19 591h3v1h-3zM25 592h1v1h-1zM26 593h2v1h-2zM31 595h1v1h-1zM32 596h2v1h-2zM37 598h1v1h-1zM38 599h1v1h-1zM39 600h1v1h-1zM43 602h2v1h-2zM45 603h1v1h-1zM49 605h2v1h-2zM51 606h1v1h-1zM55 608h2v1h-2zM57 609h1v1h-1zM61 610h2v1h-2zM63 611h1v1h-1zM67 612h3v1h-3zM73 613h3v1h-3zM79 614h3v1h-3zM85 614h2v1h-2zM87 615h1v1h-1zM91 615h3v1h-3zM97 615h3v1h-3zM103 615h3v1h-3zM109 614h3v1h-3zM115 613h2v1h-2zM117 612h1v1h-1zM121 612h1v1h-1zM122 611h2v1h-2zM127 610h3v1h-3zM133 609h1v1h-1zM134 608h2v1h-2zM139 607h3v1h-3zM145 606h2v1h-2zM147 605h1v1h-1zM151 604h1v1h-1zM152 603h2v1h-2zM157 601h1v1h-1zM158 600h2v1h-2zM163 598h1v1h-1zM164 597h2v1h-2zM169 595h1v1h-1zM170 594h2v1h-2zM175 592h1v1h-1zM176 591h2v1h-2zM181 588h2v1h-2zM183 587h1v1h-1zM187 585h1v1h-1zM188 584h2v1h-2zM193 582h2v1h-2zM195 581h1v1h-1zM199 580h2v1h-2zM201 579h1v1h-1zM205 578h3v1h-3zM211 577h3v1h-3zM217 577h3v1h-3zM223 577h3v1h-3zM229 578h1v1h-1zM230 579h2v1h-2zM235 581h2v1h-2zM237 582h1v1h-1zM241 584h1v1h-1zM242 585h2v1h-2zM247 588h2v1h-2zM249 589h1v1h-1zM253 591h1v1h-1zM254 592h2v1h-2zM259 595h1v1h-1zM260 596h1v1h-1zM261 597h1v1h-1zM265 600h2v1h-2zM267 601h1v1h-1zM271 603h1v1h-1zM272 604h1v1h-1zM273 605h1v1h-1zM277 608h1v1h-1zM278 609h1v1h-1zM279 610h1v1h-1zM283 613h1v1h-1zM284 614h2v1h-2zM289 618h2v1h-2zM291 619h1v1h-1zM295 622h1v1h-1zM296 623h1v1h-1zM297 624h1v1h-1zM301 626h1v1h-1zM302 627h1v1h-1zM303 628h1v1h-1zM307 630h1v1h-1zM308 631h2v1h-2zM313 634h3v1h-3zM319 636h2v1h-2zM321 637h1v1h-1zM325 638h1v1h-1zM326 639h2v1h-2zM331 640h2v1h-2zM333 641h1v1h-1zM337 642h3v1h-3zM343 643h2v1h-2zM345 644h1v1h-1zM349 645h3v1h-3zM355 646h2v1h-2zM357 647h1v1h-1zM361 648h3v1h-3zM367 649h3v1h-3zM373 651h2v1h-2zM375 652h1v1h-1zM379 654h2v1h-2zM381 655h1v1h-1zM385 657h2v1h-2zM387 658h1v1h-1zM391 660h2v1h-2zM393 661h1v1h-1zM397 663h2v1h-2zM399 664h1v1h-1zM403 666h2v1h-2zM405 667h1v1h-1zM409 669h1v1h-1zM410 670h2v1h-2zM415 672h2v1h-2zM417 673h1v1h-1zM421 673h3v1h-3zM427 674h3v1h-3zM433 675h3v1h-3zM439 675h3v1h-3zM445 674h3v1h-3zM451 674h1v1h-1zM452 673h2v1h-2zM457 672h3v1h-3zM463 671h3v1h-3zM469 670h1v1h-1zM470 669h2v1h-2zM475 668h2v1h-2zM477 667h1v1h-1zM481 666h1v1h-1zM482 665h2v1h-2zM487 664h3v1h-3zM493 663h1v1h-1zM494 662h2v1h-2zM499 661h3v1h-3zM505 660h1v1h-1zM506 659h2v1h-2zM511 658h3v1h-3zM517 657h3v1h-3zM523 656h3v1h-3zM529 656h2v1h-2zM531 655h1v1h-1zM535 655h3v1h-3zM541 654h3v1h-3zM547 654h1v1h-1zM548 653h2v1h-2zM553 653h3v1h-3zM559 653h3v1h-3zM565 654h3v1h-3zM571 654h3v1h-3zM577 654h2v1h-2zM579 653h1v1h-1zM583 653h3v1h-3zM589 652h3v1h-3zM595 651h3v1h-3zM601 650h1v1h-1zM602 649h2v1h-2zM607 648h3v1h-3zM613 647h1v1h-1zM614 646h2v1h-2zM619 645h2v1h-2zM621 644h1v1h-1zM625 643h1v1h-1zM626 642h2v1h-2zM631 640h3v1h-3zM637 638h3v1h-3zM643 636h2v1h-2zM645 635h1v1h-1zM649 634h1v1h-1zM650 633h2v1h-2zM655 631h1v1h-1zM656 630h2v1h-2zM661 628h2v1h-2zM663 627h1v1h-1zM667 626h2v1h-2zM669 625h1v1h-1zM673 624h1v1h-1zM674 623h2v1h-2zM679 621h3v1h-3zM685 619h3v1h-3zM691 618h1v1h-1zM692 617h2v1h-2zM697 616h1v1h-1zM698 615h2v1h-2zM703 615h1v1h-1zM704 614h2v1h-2zM709 613h3v1h-3zM715 612h3v1h-3zM721 611h2v1h-2zM723 610h1v1h-1zM727 610h3v1h-3zM733 609h3v1h-3zM739 609h3v1h-3zM745 610h3v1h-3zM751 611h3v1h-3zM757 612h3v1h-3zM763 613h2v1h-2zM765 614h1v1h-1zM769 615h3v1h-3zM775 616h3v1h-3zM781 617h3v1h-3zM787 618h1v1h-1zM788 619h2v1h-2zM793 621h3v1h-3zM799 623h3v1h-3zM805 624h1v1h-1zM806 625h2v1h-2zM811 626h2v1h-2zM813 627h1v1h-1zM817 628h3v1h-3zM823 628h3v1h-3zM829 628h3v1h-3zM835 627h3v1h-3zM841 627h2v1h-2zM843 626h1v1h-1zM847 626h3v1h-3zM853 625h1v1h-1zM854 624h2v1h-2zM859 623h3v1h-3zM865 622h1v1h-1zM866 621h2v1h-2zM871 619h3v1h-3zM877 617h2v1h-2zM879 616h1v1h-1zM883 615h2v1h-2zM885 614h1v1h-1zM889 613h1v1h-1zM890 612h2v1h-2zM895 611h3v1h-3zM901 610h1v1h-1zM902 609h2v1h-2zM907 608h3v1h-3zM913 607h3v1h-3zM919 606h3v1h-3zM925 606h2v1h-2zM927 605h1v1h-1zM931 605h3v1h-3zM937 604h3v1h-3zM943 604h3v1h-3zM949 603h3v1h-3zM955 603h3v1h-3zM961 603h3v1h-3zM967 602h3v1h-3zM973 602h3v1h-3zM979 602h3v1h-3zM985 602h3v1h-3zM991 602h3v1h-3zM997 602h3v1h-3zM1003 603h3v1h-3zM1009 603h2v1h-2zM1011 604h1v1h-1zM1015 604h2v1h-2zM1017 605h1v1h-1zM1021 606h3v1h-3zM1027 607h2v1h-2zM1029 608h1v1h-1zM1033 609h3v1h-3zM1039 611h3v1h-3zM1045 612h2v1h-2zM1047 613h1v1h-1zM1051 614h3v1h-3zM1057 615h3v1h-3zM1063 617h2v1h-2zM1065 618h1v1h-1zM1069 618h3v1h-3zM1075 619h3v1h-3zM1081 619h3v1h-3zM1087 619h3v1h-3zM1093 618h3v1h-3zM1099 617h3v1h-3zM1105 616h1v1h-1zM1106 615h2v1h-2zM1111 614h3v1h-3zM1117 613h1v1h-1zM1118 612h2v1h-2zM1123 611h1v1h-1zM1124 610h2v1h-2zM1129 608h1v1h-1zM1130 607h2v1h-2zM1135 605h3v1h-3zM1141 604h1v1h-1zM1142 603h2v1h-2zM1147 602h1v1h-1zM1148 601h2v1h-2zM1153 599h1v1h-1zM1154 598h2v1h-2zM1159 598h1v1h-1zM1160 597h2v1h-2zM1165 597h3v1h-3zM1171 597h3v1h-3zM1177 596h3v1h-3zM1183 597h3v1h-3zM1189 597h3v1h-3zM1195 596h3v1h-3zM1201 596h3v1h-3zM1207 596h3v1h-3zM1213 595h1v1h-1zM1214 594h2v1h-2zM1219 593h3v1h-3zM1225 592h3v1h-3zM1231 591h3v1h-3zM1237 589h3v1h-3zM1243 588h2v1h-2zM1245 587h1v1h-1zM1249 587h1v1h-1zM1250 586h2v1h-2zM1255 584h3v1h-3zM1261 583h3v1h-3zM1267 582h3v1h-3zM1273 581h3v1h-3zM1279 581h3v1h-3zM1285 581h3v1h-3zM1291 581h3v1h-3zM1297 581h1v1h-1zM1298 582h2v1h-2zM1303 583h3v1h-3zM1309 584h3v1h-3zM1315 585h3v1h-3zM1321 586h2v1h-2zM1323 587h1v1h-1zM1327 588h3v1h-3zM1333 589h3v1h-3zM1339 590h1v1h-1zM1340 591h2v1h-2zM1345 592h1v1h-1zM1346 593h2v1h-2zM1351 594h1v1h-1zM1352 595h2v1h-2zM1357 596h3v1h-3zM1363 597h1v1h-1zM1364 598h2v1h-2zM1369 599h3v1h-3zM1375 600h1v1h-1zM1376 601h2v1h-2zM1381 602h3v1h-3zM1387 603h3v1h-3zM1393 604h3v1h-3zM1399 605h3v1h-3zM1405 606h2v1h-2zM1407 607h1v1h-1zM1411 607h3v1h-3zM1417 608h3v1h-3zM1423 609h1v1h-1zM1424 610h2v1h-2zM1429 611h3v1h-3zM1435 612h1v1h-1zM1436 613h2v1h-2zM1441 614h3v1h-3zM1447 615h1v1h-1zM1448 616h2v1h-2zM1453 618h3v1h-3zM1459 620h1v1h-1zM1460 621h2v1h-2zM1465 623h1v1h-1zM1466 624h2v1h-2zM1471 626h2v1h-2zM1473 627h1v1h-1zM1477 628h2v1h-2zM1479 629h1v1h-1zM1483 630h2v1h-2zM1485 631h1v1h-1zM1489 632h2v1h-2zM1491 633h1v1h-1zM1495 634h1v1h-1zM1496 635h2v1h-2zM1501 635h1v1h-1zM1502 636h2v1h-2zM1507 636h3v1h-3zM1513 637h3v1h-3zM1519 637h3v1h-3zM1525 637h3v1h-3zM1531 636h3v1h-3zM1537 636h1v1h-1zM1538 635h2v1h-2zM1543 634h3v1h-3zM1549 633h1v1h-1zM1550 632h2v1h-2zM1555 631h3v1h-3zM1561 629h2v1h-2zM1563 628h1v1h-1zM1567 626h2v1h-2zM1569 625h1v1h-1zM1573 624h1v1h-1zM1574 623h2v1h-2zM1579 622h1v1h-1zM1580 621h2v1h-2zM1585 620h3v1h-3zM1591 618h2v1h-2zM1593 617h1v1h-1zM1597 616h1v1h-1zM1598 615h2v1h-2zM1603 614h2v1h-2zM1605 613h1v1h-1zM1609 613h2v1h-2zM1611 612h1v1h-1zM1615 612h3v1h-3zM1621 611h3v1h-3zM1627 611h3v1h-3zM1633 612h3v1h-3zM1639 613h3v1h-3zM1645 613h1v1h-1zM1646 614h2v1h-2zM1651 615h3v1h-3zM1657 616h3v1h-3zM1663 618h2v1h-2z" fill="#ff0000" shape-rendering="crispEdges"/>
<text transform="translate(5,577) scale(1,1.11)" font-size="9" fill="#000" stroke="#000" stroke-width="0.15" textLength="119" lengthAdjust="spacing" xml:space="preserve">MACD(12,26,9) -26.45 -9.50</text>
<g shape-rendering="crispEdges">
<rect x="1687" y="566" width="1" height="1" fill="#000"/>
<rect x="1687" y="613" width="1" height="1" fill="#000"/>
<rect x="1687" y="688" width="1" height="1" fill="#000"/>
<rect x="1687" y="693" width="1" height="1" fill="#000"/>
<rect x="1687" y="815" width="1" height="1" fill="#000"/>
</g>
<text transform="translate(1690,575) scale(1,1.11)" font-size="9" fill="#000" stroke="#000" stroke-width="0.15" textLength="23" lengthAdjust="spacing" xml:space="preserve">88.98</text>
<text transform="translate(1690,617) scale(1,1.11)" font-size="9" fill="#000" stroke="#000" stroke-width="0.15" textLength="17.5" lengthAdjust="spacing" xml:space="preserve">0.00</text>
<text transform="translate(1690,686) scale(1,1.11)" font-size="9" fill="#000" stroke="#000" stroke-width="0.15" textLength="31" lengthAdjust="spacing" xml:space="preserve">-141.39</text>
<g shape-rendering="crispEdges">
<line x1="2" x2="1686" y1="729.5" y2="729.5" stroke="#c0c0c0" stroke-width="1" stroke-dasharray="3 3"/>
<line x1="2" x2="1686" y1="779.5" y2="779.5" stroke="#c0c0c0" stroke-width="1" stroke-dasharray="3 3"/>
</g>
<path clip-path="url(#cr)" d="M1 750h1v1h-1zM2 751h1v2h-1zM3 753h1v2h-1zM4 755h1v2h-1zM5 757h1v2h-1zM6 759h1v1h-1zM7 760h1v2h-1zM8 762h1v2h-1zM9 764h1v2h-1zM10 765h8v1h-8zM18 764h3v1h-3zM21 763h3v1h-3zM24 762h2v1h-2zM26 763h1v1h-1zM27 764h2v1h-2zM29 765h1v1h-1zM30 766h2v1h-2zM32 767h1v1h-1zM33 768h1v1h-1zM34 767h1v1h-1zM35 766h2v1h-2zM37 765h2v1h-2zM39 764h1v1h-1zM40 763h2v1h-2zM42 762h2v1h-2zM44 761h2v1h-2zM46 760h2v1h-2zM48 759h2v1h-2zM50 758h1v1h-1zM51 757h1v1h-1zM52 756h1v1h-1zM53 755h2v1h-2zM55 754h1v1h-1zM56 753h1v1h-1zM57 752h4v1h-4zM61 751h5v1h-5zM66 750h2v1h-2zM68 749h2v1h-2zM70 748h2v1h-2zM72 747h3v1h-3zM75 748h2v1h-2zM77 749h2v1h-2zM79 750h2v1h-2zM81 751h2v1h-2zM83 752h1v1h-1zM84 753h1v1h-1zM85 754h2v1h-2zM87 755h1v1h-1zM88 756h1v1h-1zM89 757h1v1h-1zM90 756h1v1h-1zM91 755h1v1h-1zM92 754h2v1h-2zM94 753h1v1h-1zM95 752h1v1h-1zM96 751h2v1h-2zM98 750h1v1h-1zM99 749h2v1h-2zM101 748h2v1h-2zM103 747h1v1h-1zM104 746h3v1h-3zM107 747h1v1h-1zM108 748h1v1h-1zM109 749h1v1h-1zM110 750h1v1h-1zM111 751h2v1h-2zM113 752h1v1h-1zM114 751h1v1h-1zM115 750h1v1h-1zM116 749h1v1h-1zM117 747h1v2h-1zM118 746h1v1h-1zM119 745h1v1h-1zM120 744h1v1h-1zM121 743h2v1h-2zM123 744h3v1h-3zM126 745h2v1h-2zM128 746h2v1h-2zM130 745h1v1h-1zM131 744h1v1h-1zM132 743h1v1h-1zM133 742h1v1h-1zM134 741h1v1h-1zM135 739h1v2h-1zM136 738h1v1h-1zM137 737h2v1h-2zM139 736h3v1h-3zM142 735h3v1h-3zM145 734h1v1h-1zM146 733h1v1h-1zM147 732h2v1h-2zM149 731h1v1h-1zM150 730h1v1h-1zM151 729h1v1h-1zM152 728h1v1h-1zM153 727h4v1h-4zM157 726h5v1h-5zM162 727h1v1h-1zM163 728h1v1h-1zM164 729h1v1h-1zM165 730h1v2h-1zM166 732h1v1h-1zM167 733h1v1h-1zM168 734h1v1h-1zM169 735h1v2h-1zM170 736h1v1h-1zM171 735h8v1h-8zM179 736h2v1h-2zM181 737h2v1h-2zM183 738h2v1h-2zM185 739h1v1h-1zM186 738h3v1h-3zM189 737h2v1h-2zM191 736h3v1h-3zM194 737h1v1h-1zM195 738h1v1h-1zM196 739h1v1h-1zM197 740h1v1h-1zM198 741h1v2h-1zM199 743h1v1h-1zM200 744h1v1h-1zM201 745h1v1h-1zM202 746h1v1h-1zM203 747h1v2h-1zM204 749h1v1h-1zM205 750h1v1h-1zM206 751h1v1h-1zM207 752h1v1h-1zM208 753h1v1h-1zM209 754h1v2h-1zM210 755h1v1h-1zM211 754h9v1h-9zM220 755h2v1h-2zM222 756h3v1h-3zM225 757h1v1h-1zM226 758h1v1h-1zM227 759h1v1h-1zM228 760h1v1h-1zM229 761h1v1h-1zM230 762h1v1h-1zM231 763h1v1h-1zM232 764h1v1h-1zM233 765h2v1h-2zM235 766h3v1h-3zM238 767h2v1h-2zM240 768h2v1h-2zM242 767h1v1h-1zM243 766h1v1h-1zM244 765h1v1h-1zM245 764h1v1h-1zM246 763h1v1h-1zM247 762h1v1h-1zM248 761h1v1h-1zM249 760h1v1h-1zM250 761h3v1h-3zM253 762h3v1h-3zM256 763h2v1h-2zM258 764h1v1h-1zM259 765h1v1h-1zM260 766h1v1h-1zM261 767h1v1h-1zM262 768h1v1h-1zM263 769h1v1h-1zM264 770h1v1h-1zM265 771h3v1h-3zM268 772h3v1h-3zM271 773h4v1h-4zM275 772h1v1h-1zM276 771h2v1h-2zM278 770h2v1h-2zM280 769h2v1h-2zM282 768h2v1h-2zM284 767h2v1h-2zM286 766h2v1h-2zM288 765h3v1h-3zM291 766h2v1h-2zM293 767h2v1h-2zM295 768h2v1h-2zM297 769h5v1h-5zM302 770h4v1h-4zM306 769h1v1h-1zM307 768h1v1h-1zM308 767h1v1h-1zM309 765h1v2h-1zM310 764h1v1h-1zM311 763h1v1h-1zM312 762h1v1h-1zM313 761h1v1h-1zM314 760h4v1h-4zM318 759h4v1h-4zM322 760h1v1h-1zM323 761h1v1h-1zM324 762h1v1h-1zM325 763h1v2h-1zM326 765h1v1h-1zM327 766h1v1h-1zM328 767h1v1h-1zM329 768h1v2h-1zM330 769h4v1h-4zM334 770h5v1h-5zM339 771h4v1h-4zM343 772h4v1h-4zM347 771h3v1h-3zM350 770h3v1h-3zM353 769h1v1h-1zM354 770h1v1h-1zM355 771h1v1h-1zM356 772h1v1h-1zM357 773h1v1h-1zM358 774h1v1h-1zM359 775h1v1h-1zM360 776h1v1h-1zM361 777h2v1h-2zM363 778h2v1h-2zM365 779h2v1h-2zM367 780h2v1h-2zM369 781h1v1h-1zM370 780h2v1h-2zM372 779h2v1h-2zM374 778h2v1h-2zM376 777h3v1h-3zM379 778h1v1h-1zM380 779h1v1h-1zM381 780h2v1h-2zM383 781h1v1h-1zM384 782h1v1h-1zM385 783h1v1h-1zM386 782h1v1h-1zM387 781h1v1h-1zM388 780h1v1h-1zM389 779h1v1h-1zM390 778h1v1h-1zM391 777h2v1h-2zM393 776h3v1h-3zM396 777h2v1h-2zM398 778h3v1h-3zM401 779h1v1h-1zM402 777h1v2h-1zM403 776h1v1h-1zM404 774h1v2h-1zM405 773h1v1h-1zM406 771h1v2h-1zM407 770h1v1h-1zM408 769h1v1h-1zM409 767h1v2h-1zM410 767h2v1h-2zM412 766h3v1h-3zM415 765h9v1h-9zM424 766h3v1h-3zM427 765h8v1h-8zM435 766h1v1h-1zM436 767h2v1h-2zM438 768h2v1h-2zM440 769h1v1h-1zM441 770h7v1h-7zM448 771h2v1h-2zM450 770h6v1h-6zM456 769h7v1h-7zM463 768h6v1h-6zM469 767h5v1h-5zM474 766h6v1h-6zM480 765h5v1h-5zM485 764h13v1h-13zM498 765h1v1h-1zM499 766h1v1h-1zM500 767h1v1h-1zM501 768h1v2h-1zM502 770h1v1h-1zM503 771h1v1h-1zM504 772h1v1h-1zM505 773h1v2h-1zM506 774h2v1h-2zM508 775h3v1h-3zM511 776h3v1h-3zM514 775h1v1h-1zM515 774h2v1h-2zM517 773h1v1h-1zM518 772h1v1h-1zM519 771h1v1h-1zM520 770h1v1h-1zM521 769h6v1h-6zM527 768h3v1h-3zM530 769h1v1h-1zM531 770h2v1h-2zM533 771h1v1h-1zM534 772h2v1h-2zM536 773h1v1h-1zM537 774h1v1h-1zM538 773h1v1h-1zM539 772h1v1h-1zM540 771h1v1h-1zM541 770h2v1h-2zM543 769h1v1h-1zM544 768h1v1h-1zM545 767h1v1h-1zM546 768h3v1h-3zM549 769h2v1h-2zM551 770h2v1h-2zM553 771h7v1h-7zM560 772h8v1h-8zM568 773h2v1h-2zM570 772h4v1h-4zM574 771h4v1h-4zM578 769h1v2h-1zM579 767h1v2h-1zM580 765h1v2h-1zM581 764h1v1h-1zM582 762h1v2h-1zM583 760h1v2h-1zM584 758h1v2h-1zM585 757h9v1h-9zM594 756h3v1h-3zM597 755h2v1h-2zM599 754h4v1h-4zM603 755h2v1h-2zM605 756h2v1h-2zM607 757h2v1h-2zM609 758h1v1h-1zM610 757h1v1h-1zM611 756h1v1h-1zM612 755h1v1h-1zM613 754h1v1h-1zM614 753h1v1h-1zM615 752h2v1h-2zM617 751h4v1h-4zM621 752h4v1h-4zM625 753h1v1h-1zM626 754h2v1h-2zM628 755h1v1h-1zM629 756h1v1h-1zM630 757h1v1h-1zM631 758h1v1h-1zM632 759h1v1h-1zM633 760h1v1h-1zM634 759h3v1h-3zM637 758h2v1h-2zM639 757h3v1h-3zM642 756h2v1h-2zM644 755h2v1h-2zM646 754h3v1h-3zM649 753h2v1h-2zM651 752h1v1h-1zM652 751h2v1h-2zM654 750h2v1h-2zM656 749h2v1h-2zM658 748h2v1h-2zM660 747h2v1h-2zM662 746h2v1h-2zM664 745h2v1h-2zM666 744h3v1h-3zM669 743h3v1h-3zM672 742h2v1h-2zM674 743h1v1h-1zM675 744h1v1h-1zM676 745h2v1h-2zM678 746h1v1h-1zM679 747h1v1h-1zM680 748h1v1h-1zM681 749h2v1h-2zM683 748h7v1h-7zM690 749h2v1h-2zM692 750h1v1h-1zM693 751h1v1h-1zM694 752h1v1h-1zM695 753h1v1h-1zM696 754h1v1h-1zM697 755h1v1h-1zM698 754h6v1h-6zM704 753h3v1h-3zM707 752h3v1h-3zM710 751h3v1h-3zM713 750h9v1h-9zM722 751h1v1h-1zM723 752h1v1h-1zM724 753h1v1h-1zM725 754h1v1h-1zM726 755h1v1h-1zM727 756h1v2h-1zM728 758h1v1h-1zM729 759h4v1h-4zM733 760h4v1h-4zM737 761h2v1h-2zM739 762h1v1h-1zM740 763h1v1h-1zM741 764h2v1h-2zM743 765h1v1h-1zM744 766h1v1h-1zM745 767h5v1h-5zM750 768h5v1h-5zM755 767h1v1h-1zM756 766h2v1h-2zM758 765h2v1h-2zM760 764h3v1h-3zM763 765h3v1h-3zM766 766h2v1h-2zM768 767h5v1h-5zM773 766h5v1h-5zM778 765h2v1h-2zM780 764h2v1h-2zM782 763h3v1h-3zM785 762h1v1h-1zM786 763h1v2h-1zM787 765h1v1h-1zM788 766h1v2h-1zM789 768h1v1h-1zM790 769h1v2h-1zM791 771h1v2h-1zM792 773h1v1h-1zM793 774h1v2h-1zM794 774h1v1h-1zM795 772h1v2h-1zM796 771h1v1h-1zM797 770h1v1h-1zM798 769h1v1h-1zM799 768h1v1h-1zM800 767h1v1h-1zM801 766h2v1h-2zM803 765h7v1h-7zM810 764h3v1h-3zM813 763h2v1h-2zM815 762h3v1h-3zM818 760h1v2h-1zM819 758h1v2h-1zM820 756h1v2h-1zM821 754h1v2h-1zM822 753h1v1h-1zM823 751h1v2h-1zM824 749h1v2h-1zM825 747h1v2h-1zM826 747h2v1h-2zM828 746h3v1h-3zM831 745h4v1h-4zM835 744h9v1h-9zM844 745h2v1h-2zM846 746h3v1h-3zM849 747h1v1h-1zM850 746h6v1h-6zM856 745h3v1h-3zM859 746h6v1h-6zM865 747h4v1h-4zM869 748h4v1h-4zM873 749h9v1h-9zM882 748h1v1h-1zM883 747h1v1h-1zM884 746h1v1h-1zM885 745h1v1h-1zM886 744h1v1h-1zM887 743h2v1h-2zM889 742h1v1h-1zM890 741h4v1h-4zM894 740h5v1h-5zM899 739h7v1h-7zM906 740h1v2h-1zM907 742h1v1h-1zM908 743h1v2h-1zM909 745h1v2h-1zM910 747h1v2h-1zM911 749h1v2h-1zM912 751h1v2h-1zM913 753h1v2h-1zM914 754h4v1h-4zM918 755h5v1h-5zM923 754h3v1h-3zM926 753h3v1h-3zM929 752h3v1h-3zM932 751h3v1h-3zM935 750h3v1h-3zM938 749h2v1h-2zM940 748h1v1h-1zM941 747h2v1h-2zM943 746h2v1h-2zM945 745h3v1h-3zM948 744h3v1h-3zM951 743h3v1h-3zM954 742h1v1h-1zM955 741h2v1h-2zM957 740h2v1h-2zM959 739h1v1h-1zM960 738h4v1h-4zM964 739h2v1h-2zM966 740h3v1h-3zM969 741h1v1h-1zM970 742h2v1h-2zM972 743h1v1h-1zM973 744h1v1h-1zM974 745h1v1h-1zM975 746h1v1h-1zM976 747h1v1h-1zM977 748h1v1h-1zM978 749h1v1h-1zM979 750h1v1h-1zM980 751h1v2h-1zM981 753h1v1h-1zM982 754h1v2h-1zM983 756h1v1h-1zM984 757h1v1h-1zM985 758h1v2h-1zM986 759h1v1h-1zM987 758h7v1h-7zM994 757h3v1h-3zM997 756h3v1h-3zM1000 755h2v1h-2zM1002 756h1v1h-1zM1003 757h1v2h-1zM1004 759h1v1h-1zM1005 760h1v1h-1zM1006 761h1v2h-1zM1007 763h1v1h-1zM1008 764h1v1h-1zM1009 765h1v2h-1zM1010 766h9v1h-9zM1019 765h9v1h-9zM1028 766h3v1h-3zM1031 767h3v1h-3zM1034 766h1v1h-1zM1035 765h1v1h-1zM1036 764h1v1h-1zM1037 762h1v2h-1zM1038 761h1v1h-1zM1039 760h1v1h-1zM1040 759h1v1h-1zM1041 758h2v1h-2zM1043 759h3v1h-3zM1046 760h2v1h-2zM1048 761h2v1h-2zM1050 760h1v1h-1zM1051 759h1v1h-1zM1052 758h1v1h-1zM1053 757h1v1h-1zM1054 756h1v1h-1zM1055 755h1v1h-1zM1056 754h1v1h-1zM1057 753h1v1h-1zM1058 754h1v1h-1zM1059 755h1v1h-1zM1060 756h1v1h-1zM1061 757h1v1h-1zM1062 758h1v1h-1zM1063 759h1v1h-1zM1064 760h1v1h-1zM1065 761h9v1h-9zM1074 759h1v2h-1zM1075 757h1v2h-1zM1076 755h1v2h-1zM1077 754h1v1h-1zM1078 752h1v2h-1zM1079 750h1v2h-1zM1080 748h1v2h-1zM1081 747h1v1h-1zM1082 746h2v1h-2zM1084 745h2v1h-2zM1086 744h2v1h-2zM1088 743h2v1h-2zM1090 742h1v1h-1zM1091 741h1v1h-1zM1092 740h1v1h-1zM1093 739h1v1h-1zM1094 738h1v1h-1zM1095 737h2v1h-2zM1097 736h4v1h-4zM1101 737h4v1h-4zM1105 738h10v1h-10zM1115 737h10v1h-10zM1125 738h4v1h-4zM1129 739h5v1h-5zM1134 740h4v1h-4zM1138 741h3v1h-3zM1141 742h2v1h-2zM1143 743h2v1h-2zM1145 744h1v1h-1zM1146 743h3v1h-3zM1149 742h2v1h-2zM1151 741h3v1h-3zM1154 742h1v1h-1zM1155 743h1v1h-1zM1156 744h1v2h-1zM1157 746h1v1h-1zM1158 747h1v2h-1zM1159 749h1v1h-1zM1160 750h1v1h-1zM1161 751h1v2h-1zM1162 752h3v1h-3zM1165 753h4v1h-4zM1169 754h1v1h-1zM1170 753h4v1h-4zM1174 752h4v1h-4zM1178 751h3v1h-3zM1181 750h2v1h-2zM1183 749h3v1h-3zM1186 747h1v2h-1zM1187 745h1v2h-1zM1188 743h1v2h-1zM1189 741h1v2h-1zM1190 739h1v2h-1zM1191 737h1v2h-1zM1192 735h1v2h-1zM1193 733h1v2h-1zM1194 732h1v1h-1zM1195 731h2v1h-2zM1197 730h2v1h-2zM1199 729h1v1h-1zM1200 728h5v1h-5zM1205 729h4v1h-4zM1209 730h2v1h-2zM1211 729h15v1h-15zM1226 728h4v1h-4zM1230 727h6v1h-6zM1236 728h2v1h-2zM1238 729h3v1h-3zM1241 730h4v1h-4zM1245 731h4v1h-4zM1249 732h2v1h-2zM1251 733h1v1h-1zM1252 734h1v1h-1zM1253 735h2v1h-2zM1255 736h1v1h-1zM1256 737h1v1h-1zM1257 738h1v1h-1zM1258 737h2v1h-2zM1260 736h2v1h-2zM1262 735h2v1h-2zM1264 734h4v1h-4zM1268 735h4v1h-4zM1272 736h4v1h-4zM1276 735h6v1h-6zM1282 736h1v1h-1zM1283 737h1v2h-1zM1284 739h1v1h-1zM1285 740h1v2h-1zM1286 742h1v1h-1zM1287 743h1v2h-1zM1288 745h1v1h-1zM1289 746h1v2h-1zM1290 747h1v1h-1zM1291 746h4v1h-4zM1295 745h11v1h-11zM1306 746h1v1h-1zM1307 747h1v1h-1zM1308 748h1v2h-1zM1309 750h1v1h-1zM1310 751h1v1h-1zM1311 752h1v1h-1zM1312 753h1v2h-1zM1313 755h1v1h-1zM1314 754h1v1h-1zM1315 753h1v1h-1zM1316 752h1v1h-1zM1317 751h2v1h-2zM1319 750h1v1h-1zM1320 749h1v1h-1zM1321 748h5v1h-5zM1326 749h4v1h-4zM1330 750h1v1h-1zM1331 751h1v1h-1zM1332 752h2v1h-2zM1334 753h1v1h-1zM1335 754h1v1h-1zM1336 755h1v1h-1zM1337 756h1v1h-1zM1338 755h1v1h-1zM1339 754h2v1h-2zM1341 753h1v1h-1zM1342 752h2v1h-2zM1344 751h1v1h-1zM1345 750h1v1h-1zM1346 751h1v1h-1zM1347 752h1v1h-1zM1348 753h1v1h-1zM1349 754h1v1h-1zM1350 755h1v1h-1zM1351 756h1v1h-1zM1352 757h1v1h-1zM1353 758h11v1h-11zM1364 757h3v1h-3zM1367 756h11v1h-11zM1378 754h1v2h-1zM1379 753h1v1h-1zM1380 752h1v1h-1zM1381 750h1v2h-1zM1382 749h1v1h-1zM1383 748h1v1h-1zM1384 746h1v2h-1zM1385 745h1v1h-1zM1386 746h2v1h-2zM1388 747h2v1h-2zM1390 748h1v1h-1zM1391 749h2v1h-2zM1393 750h1v1h-1zM1394 751h2v1h-2zM1396 752h1v1h-1zM1397 753h2v1h-2zM1399 754h1v1h-1zM1400 755h1v1h-1zM1401 756h3v1h-3zM1404 757h2v1h-2zM1406 758h2v1h-2zM1408 759h2v1h-2zM1410 760h1v1h-1zM1411 761h1v1h-1zM1412 762h1v2h-1zM1413 764h1v1h-1zM1414 765h1v1h-1zM1415 766h1v1h-1zM1416 767h1v1h-1zM1417 768h5v1h-5zM1422 767h4v1h-4zM1426 768h1v1h-1zM1427 769h1v1h-1zM1428 770h2v1h-2zM1430 771h1v1h-1zM1431 772h1v1h-1zM1432 773h1v1h-1zM1433 774h5v1h-5zM1438 775h5v1h-5zM1443 776h5v1h-5zM1448 777h6v1h-6zM1454 778h5v1h-5zM1459 779h2v1h-2zM1461 780h2v1h-2zM1463 781h3v1h-3zM1466 780h1v1h-1zM1467 779h1v1h-1zM1468 778h1v1h-1zM1469 777h1v1h-1zM1470 776h1v1h-1zM1471 775h1v1h-1zM1472 774h1v1h-1zM1473 773h1v1h-1zM1474 774h3v1h-3zM1477 775h2v1h-2zM1479 776h4v1h-4zM1483 775h1v1h-1zM1484 774h1v1h-1zM1485 773h2v1h-2zM1487 772h1v1h-1zM1488 771h1v1h-1zM1489 770h3v1h-3zM1492 769h4v1h-4zM1496 768h5v1h-5zM1501 767h5v1h-5zM1506 766h1v1h-1zM1507 764h1v2h-1zM1508 763h1v1h-1zM1509 761h1v2h-1zM1510 760h1v1h-1zM1511 759h1v1h-1zM1512 757h1v2h-1zM1513 756h2v1h-2zM1515 757h3v1h-3zM1518 758h2v1h-2zM1520 759h5v1h-5zM1525 760h5v1h-5zM1530 759h2v1h-2zM1532 758h1v1h-1zM1533 757h2v1h-2zM1535 756h1v1h-1zM1536 755h2v1h-2zM1538 753h1v2h-1zM1539 752h1v1h-1zM1540 750h1v2h-1zM1541 748h1v2h-1zM1542 747h1v1h-1zM1543 745h1v2h-1zM1544 744h1v1h-1zM1545 742h1v2h-1zM1546 742h3v1h-3zM1549 741h21v1h-21zM1570 742h1v2h-1zM1571 744h1v1h-1zM1572 745h1v2h-1zM1573 747h1v1h-1zM1574 748h1v2h-1zM1575 750h1v2h-1zM1576 752h1v1h-1zM1577 753h1v2h-1zM1578 754h3v1h-3zM1581 753h5v1h-5zM1586 752h2v1h-2zM1588 751h2v1h-2zM1590 750h3v1h-3zM1593 749h4v1h-4zM1597 748h6v1h-6zM1603 749h2v1h-2zM1605 750h1v1h-1zM1606 751h2v1h-2zM1608 752h3v1h-3zM1611 753h2v1h-2zM1613 754h2v1h-2zM1615 755h2v1h-2zM1617 756h1v1h-1zM1618 757h1v1h-1zM1619 758h1v2h-1zM1620 760h1v1h-1zM1621 761h1v2h-1zM1622 763h1v1h-1zM1623 764h1v2h-1zM1624 766h1v1h-1zM1625 767h1v2h-1zM1626 768h1v1h-1zM1627 769h2v1h-2zM1629 770h2v1h-2zM1631 771h2v1h-2zM1633 772h4v1h-4zM1637 771h6v1h-6zM1643 770h3v1h-3zM1646 769h2v1h-2zM1648 768h2v1h-2zM1650 769h3v1h-3zM1653 770h2v1h-2zM1655 771h2v1h-2zM1657 772h1v1h-1zM1658 771h1v1h-1zM1659 770h2v1h-2zM1661 769h1v1h-1zM1662 768h1v1h-1zM1663 767h2v1h-2z" fill="#1e90ff" shape-rendering="crispEdges"/>
<text transform="translate(5,704) scale(1,1.11)" font-size="9" fill="#000" stroke="#000" stroke-width="0.15" textLength="68" lengthAdjust="spacing" xml:space="preserve">RSI(14) 40.9425</text>
<text transform="translate(1690,702) scale(1,1.11)" font-size="9" fill="#000" stroke="#000" stroke-width="0.15" textLength="14.5" lengthAdjust="spacing" xml:space="preserve">100</text>
<text transform="translate(1689.5,733) scale(1,1.11)" font-size="9" fill="#000" stroke="#000" stroke-width="0.15" textLength="9.5" lengthAdjust="spacing" xml:space="preserve">70</text>
<text transform="translate(1689.5,783) scale(1,1.11)" font-size="9" fill="#000" stroke="#000" stroke-width="0.15" textLength="9.5" lengthAdjust="spacing" xml:space="preserve">30</text>
<text transform="translate(1690,813) scale(1,1.11)" font-size="9" fill="#000" stroke="#000" stroke-width="0.15" textLength="5" lengthAdjust="spacing" xml:space="preserve">0</text>
<g shape-rendering="crispEdges">
<rect x="1" y="817" width="1" height="3" fill="#000"/>
<rect x="65" y="817" width="1" height="3" fill="#000"/>
<rect x="129" y="817" width="1" height="3" fill="#000"/>
<rect x="193" y="817" width="1" height="3" fill="#000"/>
<rect x="257" y="817" width="1" height="3" fill="#000"/>
<rect x="321" y="817" width="1" height="3" fill="#000"/>
<rect x="385" y="817" width="1" height="3" fill="#000"/>
<rect x="449" y="817" width="1" height="3" fill="#000"/>
<rect x="513" y="817" width="1" height="3" fill="#000"/>
<rect x="577" y="817" width="1" height="3" fill="#000"/>
<rect x="641" y="817" width="1" height="3" fill="#000"/>
<rect x="705" y="817" width="1" height="3" fill="#000"/>
<rect x="769" y="817" width="1" height="3" fill="#000"/>
<rect x="833" y="817" width="1" height="3" fill="#000"/>
<rect x="897" y="817" width="1" height="3" fill="#000"/>
<rect x="961" y="817" width="1" height="3" fill="#000"/>
<rect x="1025" y="817" width="1" height="3" fill="#000"/>
<rect x="1089" y="817" width="1" height="3" fill="#000"/>
<rect x="1153" y="817" width="1" height="3" fill="#000"/>
<rect x="1217" y="817" width="1" height="3" fill="#000"/>
<rect x="1281" y="817" width="1" height="3" fill="#000"/>
<rect x="1345" y="817" width="1" height="3" fill="#000"/>
<rect x="1409" y="817" width="1" height="3" fill="#000"/>
<rect x="1473" y="817" width="1" height="3" fill="#000"/>
<rect x="1537" y="817" width="1" height="3" fill="#000"/>
<rect x="1601" y="817" width="1" height="3" fill="#000"/>
<rect x="1665" y="817" width="1" height="3" fill="#000"/>
</g>
<text transform="translate(0,829) scale(1,1.11)" font-size="9" fill="#000" stroke="#000" stroke-width="0.15" textLength="49.5" lengthAdjust="spacing" xml:space="preserve">27 Jan 2021</text>
<text transform="translate(64.5,829) scale(1,1.11)" font-size="9" fill="#000" stroke="#000" stroke-width="0.15" textLength="49" lengthAdjust="spacing" xml:space="preserve">2 Feb 05:00</text>
<text transform="translate(128.5,829) scale(1,1.11)" font-size="9" fill="#000" stroke="#000" stroke-width="0.15" textLength="49" lengthAdjust="spacing" xml:space="preserve">8 Feb 05:00</text>
<text transform="translate(192.5,829) scale(1,1.11)" font-size="9" fill="#000" stroke="#000" stroke-width="0.15" textLength="54.2" lengthAdjust="spacing" xml:space="preserve">19 Feb 05:00</text>
<text transform="translate(256.5,829) scale(1,1.11)" font-size="9" fill="#000" stroke="#000" stroke-width="0.15" textLength="54.2" lengthAdjust="spacing" xml:space="preserve">25 Feb 05:00</text>
<text transform="translate(320.5,829) scale(1,1.11)" font-size="9" fill="#000" stroke="#000" stroke-width="0.15" textLength="49" lengthAdjust="spacing" xml:space="preserve">3 Mar 05:00</text>
<text transform="translate(384.5,829) scale(1,1.11)" font-size="9" fill="#000" stroke="#000" stroke-width="0.15" textLength="49" lengthAdjust="spacing" xml:space="preserve">9 Mar 05:00</text>
<text transform="translate(448.5,829) scale(1,1.11)" font-size="9" fill="#000" stroke="#000" stroke-width="0.15" textLength="54.2" lengthAdjust="spacing" xml:space="preserve">15 Mar 05:00</text>
<text transform="translate(512.5,829) scale(1,1.11)" font-size="9" fill="#000" stroke="#000" stroke-width="0.15" textLength="54.2" lengthAdjust="spacing" xml:space="preserve">19 Mar 05:00</text>
<text transform="translate(576.5,829) scale(1,1.11)" font-size="9" fill="#000" stroke="#000" stroke-width="0.15" textLength="54.2" lengthAdjust="spacing" xml:space="preserve">25 Mar 05:00</text>
<text transform="translate(640.5,829) scale(1,1.11)" font-size="9" fill="#000" stroke="#000" stroke-width="0.15" textLength="54.2" lengthAdjust="spacing" xml:space="preserve">31 Mar 05:00</text>
<text transform="translate(704.5,829) scale(1,1.11)" font-size="9" fill="#000" stroke="#000" stroke-width="0.15" textLength="48" lengthAdjust="spacing" xml:space="preserve">7 Apr 05:00</text>
<text transform="translate(768.5,829) scale(1,1.11)" font-size="9" fill="#000" stroke="#000" stroke-width="0.15" textLength="53.2" lengthAdjust="spacing" xml:space="preserve">13 Apr 05:00</text>
<text transform="translate(832.5,829) scale(1,1.11)" font-size="9" fill="#000" stroke="#000" stroke-width="0.15" textLength="53.2" lengthAdjust="spacing" xml:space="preserve">19 Apr 05:00</text>
<text transform="translate(896.5,829) scale(1,1.11)" font-size="9" fill="#000" stroke="#000" stroke-width="0.15" textLength="53.2" lengthAdjust="spacing" xml:space="preserve">23 Apr 05:00</text>
<text transform="translate(960.5,829) scale(1,1.11)" font-size="9" fill="#000" stroke="#000" stroke-width="0.15" textLength="53.2" lengthAdjust="spacing" xml:space="preserve">29 Apr 05:00</text>
<text transform="translate(1024.5,829) scale(1,1.11)" font-size="9" fill="#000" stroke="#000" stroke-width="0.15" textLength="57.2" lengthAdjust="spacing" xml:space="preserve">10 May 05:00</text>
<text transform="translate(1088.5,829) scale(1,1.11)" font-size="9" fill="#000" stroke="#000" stroke-width="0.15" textLength="57.2" lengthAdjust="spacing" xml:space="preserve">14 May 05:00</text>
<text transform="translate(1152.5,829) scale(1,1.11)" font-size="9" fill="#000" stroke="#000" stroke-width="0.15" textLength="57.2" lengthAdjust="spacing" xml:space="preserve">20 May 05:00</text>
<text transform="translate(1216.5,829) scale(1,1.11)" font-size="9" fill="#000" stroke="#000" stroke-width="0.15" textLength="57.2" lengthAdjust="spacing" xml:space="preserve">26 May 05:00</text>
<text transform="translate(1280.5,829) scale(1,1.11)" font-size="9" fill="#000" stroke="#000" stroke-width="0.15" textLength="47" lengthAdjust="spacing" xml:space="preserve">1 Jun 05:00</text>
<text transform="translate(1344.5,829) scale(1,1.11)" font-size="9" fill="#000" stroke="#000" stroke-width="0.15" textLength="47" lengthAdjust="spacing" xml:space="preserve">7 Jun 05:00</text>
<text transform="translate(1408.5,829) scale(1,1.11)" font-size="9" fill="#000" stroke="#000" stroke-width="0.15" textLength="52.2" lengthAdjust="spacing" xml:space="preserve">11 Jun 05:00</text>
<text transform="translate(1472.5,829) scale(1,1.11)" font-size="9" fill="#000" stroke="#000" stroke-width="0.15" textLength="52.2" lengthAdjust="spacing" xml:space="preserve">18 Jun 05:00</text>
<text transform="translate(1536.5,829) scale(1,1.11)" font-size="9" fill="#000" stroke="#000" stroke-width="0.15" textLength="52.2" lengthAdjust="spacing" xml:space="preserve">24 Jun 05:00</text>
<text transform="translate(1600.5,829) scale(1,1.11)" font-size="9" fill="#000" stroke="#000" stroke-width="0.15" textLength="52.2" lengthAdjust="spacing" xml:space="preserve">30 Jun 05:00</text>
<text transform="translate(1664.5,829) scale(1,1.11)" font-size="9" fill="#000" stroke="#000" stroke-width="0.15" textLength="45" lengthAdjust="spacing" xml:space="preserve">6 Jul 05:00</text>
</svg></body></html>
